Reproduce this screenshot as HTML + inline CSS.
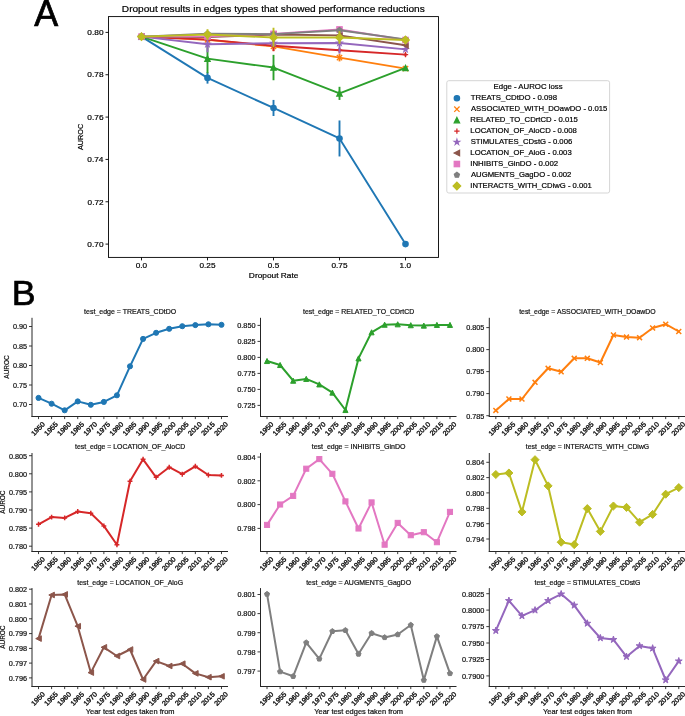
<!DOCTYPE html>
<html><head><meta charset="utf-8"><style>
html,body{margin:0;padding:0;background:#fff;overflow:hidden;width:685px;height:716px;}
svg{display:block;}
text{font-family:"Liberation Sans",sans-serif;}
svg{will-change:transform;}
</style></head><body>
<svg width="685" height="716" viewBox="0 0 685 716">
<rect width="685" height="716" fill="#fff"/>
<text x="34.28" y="26.20" font-size="36.80" fill="#000" stroke="#000" stroke-width="0.7" textLength="23.94" lengthAdjust="spacingAndGlyphs">A</text>
<text x="11.67" y="304.50" font-size="35.90" fill="#000" stroke="#000" stroke-width="0.7" textLength="23.81" lengthAdjust="spacingAndGlyphs">B</text>
<text x="121.83" y="11.80" font-size="9.38" fill="#000" stroke="#000" stroke-width="0.2" textLength="302.89" lengthAdjust="spacingAndGlyphs">Dropout results in edges types that showed performance reductions</text>
<line x1="105.50" y1="32.40" x2="108.50" y2="32.40" stroke="#000" stroke-width="0.9" stroke-linecap="butt"/>
<text x="87.38" y="35.15" font-size="7.84" fill="#000" stroke="#000" stroke-width="0.2" textLength="16.15" lengthAdjust="spacingAndGlyphs">0.80</text>
<line x1="105.50" y1="74.74" x2="108.50" y2="74.74" stroke="#000" stroke-width="0.9" stroke-linecap="butt"/>
<text x="87.39" y="77.49" font-size="7.84" fill="#000" stroke="#000" stroke-width="0.2" textLength="16.17" lengthAdjust="spacingAndGlyphs">0.78</text>
<line x1="105.50" y1="117.08" x2="108.50" y2="117.08" stroke="#000" stroke-width="0.9" stroke-linecap="butt"/>
<text x="87.35" y="119.83" font-size="7.84" fill="#000" stroke="#000" stroke-width="0.2" textLength="16.21" lengthAdjust="spacingAndGlyphs">0.76</text>
<line x1="105.50" y1="159.42" x2="108.50" y2="159.42" stroke="#000" stroke-width="0.9" stroke-linecap="butt"/>
<text x="87.30" y="162.17" font-size="7.84" fill="#000" stroke="#000" stroke-width="0.2" textLength="16.14" lengthAdjust="spacingAndGlyphs">0.74</text>
<line x1="105.50" y1="201.76" x2="108.50" y2="201.76" stroke="#000" stroke-width="0.9" stroke-linecap="butt"/>
<text x="87.63" y="204.51" font-size="7.84" fill="#000" stroke="#000" stroke-width="0.2" textLength="15.98" lengthAdjust="spacingAndGlyphs">0.72</text>
<line x1="105.50" y1="244.10" x2="108.50" y2="244.10" stroke="#000" stroke-width="0.9" stroke-linecap="butt"/>
<text x="87.38" y="246.85" font-size="7.84" fill="#000" stroke="#000" stroke-width="0.2" textLength="16.15" lengthAdjust="spacingAndGlyphs">0.70</text>
<line x1="141.50" y1="257.40" x2="141.50" y2="260.40" stroke="#000" stroke-width="0.9" stroke-linecap="butt"/>
<text x="135.78" y="268.20" font-size="7.84" fill="#000" stroke="#000" stroke-width="0.2" textLength="11.43" lengthAdjust="spacingAndGlyphs">0.0</text>
<line x1="207.50" y1="257.40" x2="207.50" y2="260.40" stroke="#000" stroke-width="0.9" stroke-linecap="butt"/>
<text x="199.51" y="268.20" font-size="7.84" fill="#000" stroke="#000" stroke-width="0.2" textLength="16.01" lengthAdjust="spacingAndGlyphs">0.25</text>
<line x1="273.50" y1="257.40" x2="273.50" y2="260.40" stroke="#000" stroke-width="0.9" stroke-linecap="butt"/>
<text x="267.87" y="268.20" font-size="7.84" fill="#000" stroke="#000" stroke-width="0.2" textLength="11.29" lengthAdjust="spacingAndGlyphs">0.5</text>
<line x1="339.50" y1="257.40" x2="339.50" y2="260.40" stroke="#000" stroke-width="0.9" stroke-linecap="butt"/>
<text x="331.51" y="268.20" font-size="7.84" fill="#000" stroke="#000" stroke-width="0.2" textLength="16.01" lengthAdjust="spacingAndGlyphs">0.75</text>
<line x1="405.50" y1="257.40" x2="405.50" y2="260.40" stroke="#000" stroke-width="0.9" stroke-linecap="butt"/>
<text x="399.64" y="268.20" font-size="7.84" fill="#000" stroke="#000" stroke-width="0.2" textLength="11.41" lengthAdjust="spacingAndGlyphs">1.0</text>
<text x="248.89" y="278.40" font-size="7.84" fill="#000" stroke="#000" stroke-width="0.2" textLength="49.50" lengthAdjust="spacingAndGlyphs">Dropout Rate</text>
<text transform="translate(80.10,137.00) rotate(-90) translate(-13.09,2.70)" x="0" y="0" font-size="7.84" fill="#000" stroke="#000" stroke-width="0.2" textLength="26.45" lengthAdjust="spacingAndGlyphs">AUROC</text>
<g>
<line x1="207.50" y1="72.20" x2="207.50" y2="83.63" stroke="#1f77b4" stroke-width="1.9" stroke-linecap="butt"/>
<line x1="273.50" y1="99.93" x2="273.50" y2="116.02" stroke="#1f77b4" stroke-width="1.9" stroke-linecap="butt"/>
<line x1="339.50" y1="120.47" x2="339.50" y2="156.46" stroke="#1f77b4" stroke-width="1.9" stroke-linecap="butt"/>
<polyline points="141.50,36.63 207.50,77.92 273.50,107.98 339.50,138.46 405.50,244.10" fill="none" stroke="#1f77b4" stroke-width="1.9" stroke-linejoin="round" stroke-linecap="round"/>
<circle cx="141.50" cy="36.63" r="2.67" fill="#1f77b4" stroke="#1f77b4" stroke-width="1.27" stroke-linejoin="miter"/>
<circle cx="207.50" cy="77.92" r="2.67" fill="#1f77b4" stroke="#1f77b4" stroke-width="1.27" stroke-linejoin="miter"/>
<circle cx="273.50" cy="107.98" r="2.67" fill="#1f77b4" stroke="#1f77b4" stroke-width="1.27" stroke-linejoin="miter"/>
<circle cx="339.50" cy="138.46" r="2.67" fill="#1f77b4" stroke="#1f77b4" stroke-width="1.27" stroke-linejoin="miter"/>
<circle cx="405.50" cy="244.10" r="2.67" fill="#1f77b4" stroke="#1f77b4" stroke-width="1.27" stroke-linejoin="miter"/>
<line x1="207.50" y1="37.27" x2="207.50" y2="42.35" stroke="#ff7f0e" stroke-width="1.9" stroke-linecap="butt"/>
<line x1="273.50" y1="41.71" x2="273.50" y2="51.03" stroke="#ff7f0e" stroke-width="1.9" stroke-linecap="butt"/>
<line x1="339.50" y1="53.78" x2="339.50" y2="61.40" stroke="#ff7f0e" stroke-width="1.9" stroke-linecap="butt"/>
<line x1="405.50" y1="66.91" x2="405.50" y2="70.29" stroke="#ff7f0e" stroke-width="1.9" stroke-linecap="butt"/>
<polyline points="141.50,36.63 207.50,39.81 273.50,46.37 339.50,57.59 405.50,68.60" fill="none" stroke="#ff7f0e" stroke-width="1.9" stroke-linejoin="round" stroke-linecap="round"/>
<path d="M138.84 33.97L144.16 39.30M138.84 39.30L144.16 33.97" stroke="#ff7f0e" stroke-width="1.27" fill="none"/>
<path d="M204.84 37.14L210.16 42.47M204.84 42.47L210.16 37.14" stroke="#ff7f0e" stroke-width="1.27" fill="none"/>
<path d="M270.83 43.71L276.17 49.04M270.83 49.04L276.17 43.71" stroke="#ff7f0e" stroke-width="1.27" fill="none"/>
<path d="M336.83 54.93L342.17 60.26M336.83 60.26L342.17 54.93" stroke="#ff7f0e" stroke-width="1.27" fill="none"/>
<path d="M402.83 65.94L408.17 71.27M402.83 71.27L408.17 65.94" stroke="#ff7f0e" stroke-width="1.27" fill="none"/>
<line x1="207.50" y1="44.04" x2="207.50" y2="73.26" stroke="#2ca02c" stroke-width="1.9" stroke-linecap="butt"/>
<line x1="273.50" y1="54.84" x2="273.50" y2="80.24" stroke="#2ca02c" stroke-width="1.9" stroke-linecap="butt"/>
<line x1="339.50" y1="86.81" x2="339.50" y2="99.93" stroke="#2ca02c" stroke-width="1.9" stroke-linecap="butt"/>
<line x1="405.50" y1="66.27" x2="405.50" y2="69.66" stroke="#2ca02c" stroke-width="1.9" stroke-linecap="butt"/>
<polyline points="141.50,36.63 207.50,58.65 273.50,67.54 339.50,93.37 405.50,67.97" fill="none" stroke="#2ca02c" stroke-width="1.9" stroke-linejoin="round" stroke-linecap="round"/>
<path d="M141.50 33.97L144.16 39.30L138.84 39.30Z" fill="#2ca02c" stroke="#2ca02c" stroke-width="1.27" stroke-linejoin="miter"/>
<path d="M207.50 55.99L210.16 61.32L204.84 61.32Z" fill="#2ca02c" stroke="#2ca02c" stroke-width="1.27" stroke-linejoin="miter"/>
<path d="M273.50 64.88L276.17 70.21L270.83 70.21Z" fill="#2ca02c" stroke="#2ca02c" stroke-width="1.27" stroke-linejoin="miter"/>
<path d="M339.50 90.70L342.17 96.03L336.83 96.03Z" fill="#2ca02c" stroke="#2ca02c" stroke-width="1.27" stroke-linejoin="miter"/>
<path d="M405.50 65.30L408.17 70.63L402.83 70.63Z" fill="#2ca02c" stroke="#2ca02c" stroke-width="1.27" stroke-linejoin="miter"/>
<line x1="207.50" y1="37.48" x2="207.50" y2="41.71" stroke="#d62728" stroke-width="1.9" stroke-linecap="butt"/>
<line x1="273.50" y1="40.23" x2="273.50" y2="51.24" stroke="#d62728" stroke-width="1.9" stroke-linecap="butt"/>
<line x1="339.50" y1="48.07" x2="339.50" y2="52.30" stroke="#d62728" stroke-width="1.9" stroke-linecap="butt"/>
<line x1="405.50" y1="52.93" x2="405.50" y2="56.32" stroke="#d62728" stroke-width="1.9" stroke-linecap="butt"/>
<polyline points="141.50,36.63 207.50,39.60 273.50,45.74 339.50,50.18 405.50,54.63" fill="none" stroke="#d62728" stroke-width="1.9" stroke-linejoin="round" stroke-linecap="round"/>
<path d="M138.84 36.63L144.16 36.63M141.50 33.97L141.50 39.30" stroke="#d62728" stroke-width="1.27" fill="none"/>
<path d="M204.84 39.60L210.16 39.60M207.50 36.93L207.50 42.26" stroke="#d62728" stroke-width="1.27" fill="none"/>
<path d="M270.83 45.74L276.17 45.74M273.50 43.07L273.50 48.40" stroke="#d62728" stroke-width="1.27" fill="none"/>
<path d="M336.83 50.18L342.17 50.18M339.50 47.52L339.50 52.85" stroke="#d62728" stroke-width="1.27" fill="none"/>
<path d="M402.83 54.63L408.17 54.63M405.50 51.96L405.50 57.29" stroke="#d62728" stroke-width="1.27" fill="none"/>
<line x1="207.50" y1="36.21" x2="207.50" y2="52.30" stroke="#9467bd" stroke-width="1.9" stroke-linecap="butt"/>
<line x1="273.50" y1="40.66" x2="273.50" y2="45.74" stroke="#9467bd" stroke-width="1.9" stroke-linecap="butt"/>
<line x1="339.50" y1="32.40" x2="339.50" y2="53.57" stroke="#9467bd" stroke-width="1.9" stroke-linecap="butt"/>
<line x1="405.50" y1="47.64" x2="405.50" y2="51.03" stroke="#9467bd" stroke-width="1.9" stroke-linecap="butt"/>
<polyline points="141.50,36.63 207.50,44.26 273.50,43.20 339.50,42.99 405.50,49.34" fill="none" stroke="#9467bd" stroke-width="1.9" stroke-linejoin="round" stroke-linecap="round"/>
<path d="M141.50 33.97L140.90 35.81L138.97 35.81L140.53 36.95L139.93 38.79L141.50 37.65L143.07 38.79L142.47 36.95L144.03 35.81L142.10 35.81Z" fill="#9467bd" stroke="#9467bd" stroke-width="1.27" stroke-linejoin="miter"/>
<path d="M207.50 41.59L206.90 43.43L204.97 43.43L206.53 44.57L205.93 46.41L207.50 45.27L209.07 46.41L208.47 44.57L210.03 43.43L208.10 43.43Z" fill="#9467bd" stroke="#9467bd" stroke-width="1.27" stroke-linejoin="miter"/>
<path d="M273.50 40.53L272.90 42.37L270.97 42.37L272.53 43.51L271.93 45.35L273.50 44.21L275.07 45.35L274.47 43.51L276.03 42.37L274.10 42.37Z" fill="#9467bd" stroke="#9467bd" stroke-width="1.27" stroke-linejoin="miter"/>
<path d="M339.50 40.32L338.90 42.16L336.97 42.16L338.53 43.30L337.93 45.14L339.50 44.00L341.07 45.14L340.47 43.30L342.03 42.16L340.10 42.16Z" fill="#9467bd" stroke="#9467bd" stroke-width="1.27" stroke-linejoin="miter"/>
<path d="M405.50 46.67L404.90 48.51L402.97 48.51L404.53 49.65L403.93 51.49L405.50 50.35L407.07 51.49L406.47 49.65L408.03 48.51L406.10 48.51Z" fill="#9467bd" stroke="#9467bd" stroke-width="1.27" stroke-linejoin="miter"/>
<line x1="207.50" y1="35.36" x2="207.50" y2="38.75" stroke="#8c564b" stroke-width="1.9" stroke-linecap="butt"/>
<line x1="273.50" y1="32.82" x2="273.50" y2="36.21" stroke="#8c564b" stroke-width="1.9" stroke-linecap="butt"/>
<line x1="339.50" y1="33.67" x2="339.50" y2="37.06" stroke="#8c564b" stroke-width="1.9" stroke-linecap="butt"/>
<line x1="405.50" y1="43.62" x2="405.50" y2="47.01" stroke="#8c564b" stroke-width="1.9" stroke-linecap="butt"/>
<polyline points="141.50,36.63 207.50,37.06 273.50,34.52 339.50,35.36 405.50,45.31" fill="none" stroke="#8c564b" stroke-width="1.9" stroke-linejoin="round" stroke-linecap="round"/>
<path d="M138.84 36.63L144.16 33.97L144.16 39.30Z" fill="#8c564b" stroke="#8c564b" stroke-width="1.27" stroke-linejoin="miter"/>
<path d="M204.84 37.06L210.16 34.39L210.16 39.72Z" fill="#8c564b" stroke="#8c564b" stroke-width="1.27" stroke-linejoin="miter"/>
<path d="M270.83 34.52L276.17 31.85L276.17 37.18Z" fill="#8c564b" stroke="#8c564b" stroke-width="1.27" stroke-linejoin="miter"/>
<path d="M336.83 35.36L342.17 32.70L342.17 38.03Z" fill="#8c564b" stroke="#8c564b" stroke-width="1.27" stroke-linejoin="miter"/>
<path d="M402.83 45.31L408.17 42.65L408.17 47.98Z" fill="#8c564b" stroke="#8c564b" stroke-width="1.27" stroke-linejoin="miter"/>
<line x1="207.50" y1="34.73" x2="207.50" y2="38.12" stroke="#e377c2" stroke-width="1.9" stroke-linecap="butt"/>
<line x1="273.50" y1="31.34" x2="273.50" y2="36.42" stroke="#e377c2" stroke-width="1.9" stroke-linecap="butt"/>
<line x1="339.50" y1="27.32" x2="339.50" y2="31.55" stroke="#e377c2" stroke-width="1.9" stroke-linecap="butt"/>
<line x1="405.50" y1="38.33" x2="405.50" y2="41.71" stroke="#e377c2" stroke-width="1.9" stroke-linecap="butt"/>
<polyline points="141.50,36.63 207.50,36.42 273.50,33.88 339.50,29.44 405.50,40.02" fill="none" stroke="#e377c2" stroke-width="1.9" stroke-linejoin="round" stroke-linecap="round"/>
<rect x="138.84" y="33.97" width="5.33" height="5.33" fill="#e377c2" stroke="#e377c2" stroke-width="1.27" stroke-linejoin="miter"/>
<rect x="204.84" y="33.76" width="5.33" height="5.33" fill="#e377c2" stroke="#e377c2" stroke-width="1.27" stroke-linejoin="miter"/>
<rect x="270.83" y="31.22" width="5.33" height="5.33" fill="#e377c2" stroke="#e377c2" stroke-width="1.27" stroke-linejoin="miter"/>
<rect x="336.83" y="26.77" width="5.33" height="5.33" fill="#e377c2" stroke="#e377c2" stroke-width="1.27" stroke-linejoin="miter"/>
<rect x="402.83" y="37.36" width="5.33" height="5.33" fill="#e377c2" stroke="#e377c2" stroke-width="1.27" stroke-linejoin="miter"/>
<line x1="207.50" y1="31.98" x2="207.50" y2="35.36" stroke="#7f7f7f" stroke-width="1.9" stroke-linecap="butt"/>
<line x1="273.50" y1="32.40" x2="273.50" y2="35.79" stroke="#7f7f7f" stroke-width="1.9" stroke-linecap="butt"/>
<line x1="339.50" y1="27.74" x2="339.50" y2="32.82" stroke="#7f7f7f" stroke-width="1.9" stroke-linecap="butt"/>
<line x1="405.50" y1="37.69" x2="405.50" y2="41.08" stroke="#7f7f7f" stroke-width="1.9" stroke-linecap="butt"/>
<polyline points="141.50,36.63 207.50,33.67 273.50,34.09 339.50,30.28 405.50,39.39" fill="none" stroke="#7f7f7f" stroke-width="1.9" stroke-linejoin="round" stroke-linecap="round"/>
<path d="M141.50 33.97L138.97 35.81L139.93 38.79L143.07 38.79L144.03 35.81Z" fill="#7f7f7f" stroke="#7f7f7f" stroke-width="1.27" stroke-linejoin="miter"/>
<path d="M207.50 31.01L204.97 32.85L205.93 35.83L209.07 35.83L210.03 32.85Z" fill="#7f7f7f" stroke="#7f7f7f" stroke-width="1.27" stroke-linejoin="miter"/>
<path d="M273.50 31.43L270.97 33.27L271.93 36.25L275.07 36.25L276.03 33.27Z" fill="#7f7f7f" stroke="#7f7f7f" stroke-width="1.27" stroke-linejoin="miter"/>
<path d="M339.50 27.62L336.97 29.46L337.93 32.44L341.07 32.44L342.03 29.46Z" fill="#7f7f7f" stroke="#7f7f7f" stroke-width="1.27" stroke-linejoin="miter"/>
<path d="M405.50 36.72L402.97 38.56L403.93 41.54L407.07 41.54L408.03 38.56Z" fill="#7f7f7f" stroke="#7f7f7f" stroke-width="1.27" stroke-linejoin="miter"/>
<line x1="207.50" y1="29.22" x2="207.50" y2="39.81" stroke="#bcbd22" stroke-width="1.9" stroke-linecap="butt"/>
<line x1="273.50" y1="27.74" x2="273.50" y2="47.22" stroke="#bcbd22" stroke-width="1.9" stroke-linecap="butt"/>
<line x1="339.50" y1="31.13" x2="339.50" y2="43.83" stroke="#bcbd22" stroke-width="1.9" stroke-linecap="butt"/>
<line x1="405.50" y1="38.75" x2="405.50" y2="41.29" stroke="#bcbd22" stroke-width="1.9" stroke-linecap="butt"/>
<polyline points="141.50,36.63 207.50,34.52 273.50,37.48 339.50,37.48 405.50,40.02" fill="none" stroke="#bcbd22" stroke-width="1.9" stroke-linejoin="round" stroke-linecap="round"/>
<path d="M141.50 32.87L145.27 36.63L141.50 40.40L137.73 36.63Z" fill="#bcbd22" stroke="#bcbd22" stroke-width="1.27" stroke-linejoin="miter"/>
<path d="M207.50 30.75L211.27 34.52L207.50 38.29L203.73 34.52Z" fill="#bcbd22" stroke="#bcbd22" stroke-width="1.27" stroke-linejoin="miter"/>
<path d="M273.50 33.71L277.27 37.48L273.50 41.25L269.73 37.48Z" fill="#bcbd22" stroke="#bcbd22" stroke-width="1.27" stroke-linejoin="miter"/>
<path d="M339.50 33.71L343.27 37.48L339.50 41.25L335.73 37.48Z" fill="#bcbd22" stroke="#bcbd22" stroke-width="1.27" stroke-linejoin="miter"/>
<path d="M405.50 36.25L409.27 40.02L405.50 43.79L401.73 40.02Z" fill="#bcbd22" stroke="#bcbd22" stroke-width="1.27" stroke-linejoin="miter"/>
</g>
<rect x="108.5" y="16.6" width="330.0" height="240.79999999999998" fill="none" stroke="#000" stroke-width="0.9"/>
<rect x="446.8" y="80.7" width="162.80" height="112.30" rx="2" ry="2" fill="#fff" fill-opacity="0.8" stroke="#d0d0d0" stroke-width="0.9"/>
<text x="493.58" y="89.30" font-size="7.84" fill="#000" stroke="#000" stroke-width="0.2" textLength="69.09" lengthAdjust="spacingAndGlyphs">Edge - AUROC loss</text>
<circle cx="456.90" cy="98.20" r="2.67" fill="#1f77b4" stroke="#1f77b4" stroke-width="1.27" stroke-linejoin="miter"/>
<text x="470.83" y="100.10" font-size="7.84" fill="#000" stroke="#000" stroke-width="0.2" textLength="86.19" lengthAdjust="spacingAndGlyphs">TREATS_CDtDO - 0.098</text>
<path d="M454.23 106.50L459.56 111.84M454.23 111.84L459.56 106.50" stroke="#ff7f0e" stroke-width="1.27" fill="none"/>
<text x="470.99" y="111.07" font-size="7.84" fill="#000" stroke="#000" stroke-width="0.2" textLength="136.40" lengthAdjust="spacingAndGlyphs">ASSOCIATED_WITH_DOawDO - 0.015</text>
<path d="M456.90 117.47L459.56 122.81L454.23 122.81Z" fill="#2ca02c" stroke="#2ca02c" stroke-width="1.27" stroke-linejoin="miter"/>
<text x="470.37" y="122.04" font-size="7.84" fill="#000" stroke="#000" stroke-width="0.2" textLength="107.45" lengthAdjust="spacingAndGlyphs">RELATED_TO_CDrtCD - 0.015</text>
<path d="M454.23 131.11L459.56 131.11M456.90 128.45L456.90 133.78" stroke="#d62728" stroke-width="1.27" fill="none"/>
<text x="470.37" y="133.01" font-size="7.84" fill="#000" stroke="#000" stroke-width="0.2" textLength="106.52" lengthAdjust="spacingAndGlyphs">LOCATION_OF_AloCD - 0.008</text>
<path d="M456.90 139.42L456.30 141.26L454.37 141.26L455.93 142.39L455.33 144.24L456.90 143.10L458.47 144.24L457.87 142.39L459.43 141.26L457.50 141.26Z" fill="#9467bd" stroke="#9467bd" stroke-width="1.27" stroke-linejoin="miter"/>
<text x="470.65" y="143.98" font-size="7.84" fill="#000" stroke="#000" stroke-width="0.2" textLength="101.63" lengthAdjust="spacingAndGlyphs">STIMULATES_CDstG - 0.006</text>
<path d="M454.23 153.05L459.56 150.39L459.56 155.72Z" fill="#8c564b" stroke="#8c564b" stroke-width="1.27" stroke-linejoin="miter"/>
<text x="470.37" y="154.95" font-size="7.84" fill="#000" stroke="#000" stroke-width="0.2" textLength="101.31" lengthAdjust="spacingAndGlyphs">LOCATION_OF_AloG - 0.003</text>
<rect x="454.23" y="161.36" width="5.33" height="5.33" fill="#e377c2" stroke="#e377c2" stroke-width="1.27" stroke-linejoin="miter"/>
<text x="470.28" y="165.92" font-size="7.84" fill="#000" stroke="#000" stroke-width="0.2" textLength="87.85" lengthAdjust="spacingAndGlyphs">INHIBITS_GinDO - 0.002</text>
<path d="M456.90 172.33L454.37 174.17L455.33 177.15L458.47 177.15L459.43 174.17Z" fill="#7f7f7f" stroke="#7f7f7f" stroke-width="1.27" stroke-linejoin="miter"/>
<text x="470.98" y="176.89" font-size="7.84" fill="#000" stroke="#000" stroke-width="0.2" textLength="100.38" lengthAdjust="spacingAndGlyphs">AUGMENTS_GagDO - 0.002</text>
<path d="M456.90 182.19L460.67 185.96L456.90 189.73L453.13 185.96Z" fill="#bcbd22" stroke="#bcbd22" stroke-width="1.27" stroke-linejoin="miter"/>
<text x="470.29" y="187.86" font-size="7.84" fill="#000" stroke="#000" stroke-width="0.2" textLength="121.42" lengthAdjust="spacingAndGlyphs">INTERACTS_WITH_CDiwG - 0.001</text>
<text x="84.08" y="314.20" font-size="6.89" fill="#111" stroke="#111" stroke-width="0.2" textLength="92.06" lengthAdjust="spacingAndGlyphs">test_edge = TREATS_CDtDO</text>
<line x1="29.00" y1="404.50" x2="32.00" y2="404.50" stroke="#262626" stroke-width="0.9" stroke-linecap="butt"/>
<text x="12.90" y="407.30" font-size="6.89" fill="#111" stroke="#111" stroke-width="0.2" textLength="14.18" lengthAdjust="spacingAndGlyphs">0.70</text>
<line x1="29.00" y1="385.00" x2="32.00" y2="385.00" stroke="#262626" stroke-width="0.9" stroke-linecap="butt"/>
<text x="13.04" y="387.80" font-size="6.89" fill="#111" stroke="#111" stroke-width="0.2" textLength="14.06" lengthAdjust="spacingAndGlyphs">0.75</text>
<line x1="29.00" y1="365.50" x2="32.00" y2="365.50" stroke="#262626" stroke-width="0.9" stroke-linecap="butt"/>
<text x="12.90" y="368.30" font-size="6.89" fill="#111" stroke="#111" stroke-width="0.2" textLength="14.18" lengthAdjust="spacingAndGlyphs">0.80</text>
<line x1="29.00" y1="346.00" x2="32.00" y2="346.00" stroke="#262626" stroke-width="0.9" stroke-linecap="butt"/>
<text x="13.04" y="348.80" font-size="6.89" fill="#111" stroke="#111" stroke-width="0.2" textLength="14.06" lengthAdjust="spacingAndGlyphs">0.85</text>
<line x1="29.00" y1="326.50" x2="32.00" y2="326.50" stroke="#262626" stroke-width="0.9" stroke-linecap="butt"/>
<text x="12.90" y="329.30" font-size="6.89" fill="#111" stroke="#111" stroke-width="0.2" textLength="14.18" lengthAdjust="spacingAndGlyphs">0.90</text>
<line x1="38.53" y1="416.50" x2="38.53" y2="419.10" stroke="#262626" stroke-width="0.9" stroke-linecap="butt"/>
<text transform="translate(38.08,428.70) rotate(-45) translate(-8.25,2.37)" x="0" y="0" font-size="6.89" fill="#111" stroke="#111" stroke-width="0.35" textLength="16.24" lengthAdjust="spacingAndGlyphs">1950</text>
<line x1="51.60" y1="416.50" x2="51.60" y2="419.10" stroke="#262626" stroke-width="0.9" stroke-linecap="butt"/>
<text transform="translate(51.15,428.70) rotate(-45) translate(-8.18,2.37)" x="0" y="0" font-size="6.89" fill="#111" stroke="#111" stroke-width="0.35" textLength="16.12" lengthAdjust="spacingAndGlyphs">1955</text>
<line x1="64.67" y1="416.50" x2="64.67" y2="419.10" stroke="#262626" stroke-width="0.9" stroke-linecap="butt"/>
<text transform="translate(64.22,428.70) rotate(-45) translate(-8.25,2.37)" x="0" y="0" font-size="6.89" fill="#111" stroke="#111" stroke-width="0.35" textLength="16.24" lengthAdjust="spacingAndGlyphs">1960</text>
<line x1="77.73" y1="416.50" x2="77.73" y2="419.10" stroke="#262626" stroke-width="0.9" stroke-linecap="butt"/>
<text transform="translate(77.28,428.70) rotate(-45) translate(-8.18,2.37)" x="0" y="0" font-size="6.89" fill="#111" stroke="#111" stroke-width="0.35" textLength="16.12" lengthAdjust="spacingAndGlyphs">1965</text>
<line x1="90.80" y1="416.50" x2="90.80" y2="419.10" stroke="#262626" stroke-width="0.9" stroke-linecap="butt"/>
<text transform="translate(90.35,428.70) rotate(-45) translate(-8.25,2.37)" x="0" y="0" font-size="6.89" fill="#111" stroke="#111" stroke-width="0.35" textLength="16.24" lengthAdjust="spacingAndGlyphs">1970</text>
<line x1="103.87" y1="416.50" x2="103.87" y2="419.10" stroke="#262626" stroke-width="0.9" stroke-linecap="butt"/>
<text transform="translate(103.42,428.70) rotate(-45) translate(-8.18,2.37)" x="0" y="0" font-size="6.89" fill="#111" stroke="#111" stroke-width="0.35" textLength="16.12" lengthAdjust="spacingAndGlyphs">1975</text>
<line x1="116.93" y1="416.50" x2="116.93" y2="419.10" stroke="#262626" stroke-width="0.9" stroke-linecap="butt"/>
<text transform="translate(116.48,428.70) rotate(-45) translate(-8.25,2.37)" x="0" y="0" font-size="6.89" fill="#111" stroke="#111" stroke-width="0.35" textLength="16.24" lengthAdjust="spacingAndGlyphs">1980</text>
<line x1="130.00" y1="416.50" x2="130.00" y2="419.10" stroke="#262626" stroke-width="0.9" stroke-linecap="butt"/>
<text transform="translate(129.55,428.70) rotate(-45) translate(-8.18,2.37)" x="0" y="0" font-size="6.89" fill="#111" stroke="#111" stroke-width="0.35" textLength="16.12" lengthAdjust="spacingAndGlyphs">1985</text>
<line x1="143.07" y1="416.50" x2="143.07" y2="419.10" stroke="#262626" stroke-width="0.9" stroke-linecap="butt"/>
<text transform="translate(142.62,428.70) rotate(-45) translate(-8.25,2.37)" x="0" y="0" font-size="6.89" fill="#111" stroke="#111" stroke-width="0.35" textLength="16.24" lengthAdjust="spacingAndGlyphs">1990</text>
<line x1="156.13" y1="416.50" x2="156.13" y2="419.10" stroke="#262626" stroke-width="0.9" stroke-linecap="butt"/>
<text transform="translate(155.68,428.70) rotate(-45) translate(-8.18,2.37)" x="0" y="0" font-size="6.89" fill="#111" stroke="#111" stroke-width="0.35" textLength="16.12" lengthAdjust="spacingAndGlyphs">1995</text>
<line x1="169.20" y1="416.50" x2="169.20" y2="419.10" stroke="#262626" stroke-width="0.9" stroke-linecap="butt"/>
<text transform="translate(168.75,428.70) rotate(-45) translate(-8.19,2.37)" x="0" y="0" font-size="6.89" fill="#111" stroke="#111" stroke-width="0.35" textLength="16.29" lengthAdjust="spacingAndGlyphs">2000</text>
<line x1="182.27" y1="416.50" x2="182.27" y2="419.10" stroke="#262626" stroke-width="0.9" stroke-linecap="butt"/>
<text transform="translate(181.82,428.70) rotate(-45) translate(-8.11,2.37)" x="0" y="0" font-size="6.89" fill="#111" stroke="#111" stroke-width="0.35" textLength="16.17" lengthAdjust="spacingAndGlyphs">2005</text>
<line x1="195.33" y1="416.50" x2="195.33" y2="419.10" stroke="#262626" stroke-width="0.9" stroke-linecap="butt"/>
<text transform="translate(194.88,428.70) rotate(-45) translate(-8.19,2.37)" x="0" y="0" font-size="6.89" fill="#111" stroke="#111" stroke-width="0.35" textLength="16.29" lengthAdjust="spacingAndGlyphs">2010</text>
<line x1="208.40" y1="416.50" x2="208.40" y2="419.10" stroke="#262626" stroke-width="0.9" stroke-linecap="butt"/>
<text transform="translate(207.95,428.70) rotate(-45) translate(-8.11,2.37)" x="0" y="0" font-size="6.89" fill="#111" stroke="#111" stroke-width="0.35" textLength="16.17" lengthAdjust="spacingAndGlyphs">2015</text>
<line x1="221.47" y1="416.50" x2="221.47" y2="419.10" stroke="#262626" stroke-width="0.9" stroke-linecap="butt"/>
<text transform="translate(221.02,428.70) rotate(-45) translate(-8.19,2.37)" x="0" y="0" font-size="6.89" fill="#111" stroke="#111" stroke-width="0.35" textLength="16.29" lengthAdjust="spacingAndGlyphs">2020</text>
<line x1="32.00" y1="317.80" x2="32.00" y2="417.00" stroke="#262626" stroke-width="1.0" stroke-linecap="butt"/>
<line x1="31.50" y1="416.50" x2="228.00" y2="416.50" stroke="#262626" stroke-width="1.0" stroke-linecap="butt"/>
<polyline points="38.53,397.90 51.60,403.70 64.67,410.30 77.73,401.40 90.80,404.80 103.87,401.90 116.93,395.30 130.00,366.30 143.07,338.90 156.13,332.80 169.20,328.80 182.27,326.20 195.33,325.10 208.40,324.30 221.47,324.80" fill="none" stroke="#1f77b4" stroke-width="2.0" stroke-linejoin="round" stroke-linecap="round"/>
<circle cx="38.53" cy="397.90" r="2.55" fill="#1f77b4" stroke="#1f77b4" stroke-width="1.0" stroke-linejoin="miter"/>
<circle cx="51.60" cy="403.70" r="2.55" fill="#1f77b4" stroke="#1f77b4" stroke-width="1.0" stroke-linejoin="miter"/>
<circle cx="64.67" cy="410.30" r="2.55" fill="#1f77b4" stroke="#1f77b4" stroke-width="1.0" stroke-linejoin="miter"/>
<circle cx="77.73" cy="401.40" r="2.55" fill="#1f77b4" stroke="#1f77b4" stroke-width="1.0" stroke-linejoin="miter"/>
<circle cx="90.80" cy="404.80" r="2.55" fill="#1f77b4" stroke="#1f77b4" stroke-width="1.0" stroke-linejoin="miter"/>
<circle cx="103.87" cy="401.90" r="2.55" fill="#1f77b4" stroke="#1f77b4" stroke-width="1.0" stroke-linejoin="miter"/>
<circle cx="116.93" cy="395.30" r="2.55" fill="#1f77b4" stroke="#1f77b4" stroke-width="1.0" stroke-linejoin="miter"/>
<circle cx="130.00" cy="366.30" r="2.55" fill="#1f77b4" stroke="#1f77b4" stroke-width="1.0" stroke-linejoin="miter"/>
<circle cx="143.07" cy="338.90" r="2.55" fill="#1f77b4" stroke="#1f77b4" stroke-width="1.0" stroke-linejoin="miter"/>
<circle cx="156.13" cy="332.80" r="2.55" fill="#1f77b4" stroke="#1f77b4" stroke-width="1.0" stroke-linejoin="miter"/>
<circle cx="169.20" cy="328.80" r="2.55" fill="#1f77b4" stroke="#1f77b4" stroke-width="1.0" stroke-linejoin="miter"/>
<circle cx="182.27" cy="326.20" r="2.55" fill="#1f77b4" stroke="#1f77b4" stroke-width="1.0" stroke-linejoin="miter"/>
<circle cx="195.33" cy="325.10" r="2.55" fill="#1f77b4" stroke="#1f77b4" stroke-width="1.0" stroke-linejoin="miter"/>
<circle cx="208.40" cy="324.30" r="2.55" fill="#1f77b4" stroke="#1f77b4" stroke-width="1.0" stroke-linejoin="miter"/>
<circle cx="221.47" cy="324.80" r="2.55" fill="#1f77b4" stroke="#1f77b4" stroke-width="1.0" stroke-linejoin="miter"/>
<text x="303.06" y="314.20" font-size="6.89" fill="#111" stroke="#111" stroke-width="0.2" textLength="111.10" lengthAdjust="spacingAndGlyphs">test_edge = RELATED_TO_CDrtCD</text>
<line x1="257.50" y1="405.40" x2="260.50" y2="405.40" stroke="#262626" stroke-width="0.9" stroke-linecap="butt"/>
<text x="237.40" y="408.20" font-size="6.89" fill="#111" stroke="#111" stroke-width="0.2" textLength="18.20" lengthAdjust="spacingAndGlyphs">0.725</text>
<line x1="257.50" y1="389.40" x2="260.50" y2="389.40" stroke="#262626" stroke-width="0.9" stroke-linecap="butt"/>
<text x="237.27" y="392.20" font-size="6.89" fill="#111" stroke="#111" stroke-width="0.2" textLength="18.32" lengthAdjust="spacingAndGlyphs">0.750</text>
<line x1="257.50" y1="373.40" x2="260.50" y2="373.40" stroke="#262626" stroke-width="0.9" stroke-linecap="butt"/>
<text x="237.40" y="376.20" font-size="6.89" fill="#111" stroke="#111" stroke-width="0.2" textLength="18.20" lengthAdjust="spacingAndGlyphs">0.775</text>
<line x1="257.50" y1="357.40" x2="260.50" y2="357.40" stroke="#262626" stroke-width="0.9" stroke-linecap="butt"/>
<text x="237.27" y="360.20" font-size="6.89" fill="#111" stroke="#111" stroke-width="0.2" textLength="18.32" lengthAdjust="spacingAndGlyphs">0.800</text>
<line x1="257.50" y1="341.40" x2="260.50" y2="341.40" stroke="#262626" stroke-width="0.9" stroke-linecap="butt"/>
<text x="237.40" y="344.20" font-size="6.89" fill="#111" stroke="#111" stroke-width="0.2" textLength="18.20" lengthAdjust="spacingAndGlyphs">0.825</text>
<line x1="257.50" y1="325.40" x2="260.50" y2="325.40" stroke="#262626" stroke-width="0.9" stroke-linecap="butt"/>
<text x="237.27" y="328.20" font-size="6.89" fill="#111" stroke="#111" stroke-width="0.2" textLength="18.32" lengthAdjust="spacingAndGlyphs">0.850</text>
<line x1="267.03" y1="416.50" x2="267.03" y2="419.10" stroke="#262626" stroke-width="0.9" stroke-linecap="butt"/>
<text transform="translate(266.58,428.70) rotate(-45) translate(-8.25,2.37)" x="0" y="0" font-size="6.89" fill="#111" stroke="#111" stroke-width="0.35" textLength="16.24" lengthAdjust="spacingAndGlyphs">1950</text>
<line x1="280.10" y1="416.50" x2="280.10" y2="419.10" stroke="#262626" stroke-width="0.9" stroke-linecap="butt"/>
<text transform="translate(279.65,428.70) rotate(-45) translate(-8.18,2.37)" x="0" y="0" font-size="6.89" fill="#111" stroke="#111" stroke-width="0.35" textLength="16.12" lengthAdjust="spacingAndGlyphs">1955</text>
<line x1="293.17" y1="416.50" x2="293.17" y2="419.10" stroke="#262626" stroke-width="0.9" stroke-linecap="butt"/>
<text transform="translate(292.72,428.70) rotate(-45) translate(-8.25,2.37)" x="0" y="0" font-size="6.89" fill="#111" stroke="#111" stroke-width="0.35" textLength="16.24" lengthAdjust="spacingAndGlyphs">1960</text>
<line x1="306.23" y1="416.50" x2="306.23" y2="419.10" stroke="#262626" stroke-width="0.9" stroke-linecap="butt"/>
<text transform="translate(305.78,428.70) rotate(-45) translate(-8.18,2.37)" x="0" y="0" font-size="6.89" fill="#111" stroke="#111" stroke-width="0.35" textLength="16.12" lengthAdjust="spacingAndGlyphs">1965</text>
<line x1="319.30" y1="416.50" x2="319.30" y2="419.10" stroke="#262626" stroke-width="0.9" stroke-linecap="butt"/>
<text transform="translate(318.85,428.70) rotate(-45) translate(-8.25,2.37)" x="0" y="0" font-size="6.89" fill="#111" stroke="#111" stroke-width="0.35" textLength="16.24" lengthAdjust="spacingAndGlyphs">1970</text>
<line x1="332.37" y1="416.50" x2="332.37" y2="419.10" stroke="#262626" stroke-width="0.9" stroke-linecap="butt"/>
<text transform="translate(331.92,428.70) rotate(-45) translate(-8.18,2.37)" x="0" y="0" font-size="6.89" fill="#111" stroke="#111" stroke-width="0.35" textLength="16.12" lengthAdjust="spacingAndGlyphs">1975</text>
<line x1="345.43" y1="416.50" x2="345.43" y2="419.10" stroke="#262626" stroke-width="0.9" stroke-linecap="butt"/>
<text transform="translate(344.98,428.70) rotate(-45) translate(-8.25,2.37)" x="0" y="0" font-size="6.89" fill="#111" stroke="#111" stroke-width="0.35" textLength="16.24" lengthAdjust="spacingAndGlyphs">1980</text>
<line x1="358.50" y1="416.50" x2="358.50" y2="419.10" stroke="#262626" stroke-width="0.9" stroke-linecap="butt"/>
<text transform="translate(358.05,428.70) rotate(-45) translate(-8.18,2.37)" x="0" y="0" font-size="6.89" fill="#111" stroke="#111" stroke-width="0.35" textLength="16.12" lengthAdjust="spacingAndGlyphs">1985</text>
<line x1="371.57" y1="416.50" x2="371.57" y2="419.10" stroke="#262626" stroke-width="0.9" stroke-linecap="butt"/>
<text transform="translate(371.12,428.70) rotate(-45) translate(-8.25,2.37)" x="0" y="0" font-size="6.89" fill="#111" stroke="#111" stroke-width="0.35" textLength="16.24" lengthAdjust="spacingAndGlyphs">1990</text>
<line x1="384.63" y1="416.50" x2="384.63" y2="419.10" stroke="#262626" stroke-width="0.9" stroke-linecap="butt"/>
<text transform="translate(384.18,428.70) rotate(-45) translate(-8.18,2.37)" x="0" y="0" font-size="6.89" fill="#111" stroke="#111" stroke-width="0.35" textLength="16.12" lengthAdjust="spacingAndGlyphs">1995</text>
<line x1="397.70" y1="416.50" x2="397.70" y2="419.10" stroke="#262626" stroke-width="0.9" stroke-linecap="butt"/>
<text transform="translate(397.25,428.70) rotate(-45) translate(-8.19,2.37)" x="0" y="0" font-size="6.89" fill="#111" stroke="#111" stroke-width="0.35" textLength="16.29" lengthAdjust="spacingAndGlyphs">2000</text>
<line x1="410.77" y1="416.50" x2="410.77" y2="419.10" stroke="#262626" stroke-width="0.9" stroke-linecap="butt"/>
<text transform="translate(410.32,428.70) rotate(-45) translate(-8.11,2.37)" x="0" y="0" font-size="6.89" fill="#111" stroke="#111" stroke-width="0.35" textLength="16.17" lengthAdjust="spacingAndGlyphs">2005</text>
<line x1="423.83" y1="416.50" x2="423.83" y2="419.10" stroke="#262626" stroke-width="0.9" stroke-linecap="butt"/>
<text transform="translate(423.38,428.70) rotate(-45) translate(-8.19,2.37)" x="0" y="0" font-size="6.89" fill="#111" stroke="#111" stroke-width="0.35" textLength="16.29" lengthAdjust="spacingAndGlyphs">2010</text>
<line x1="436.90" y1="416.50" x2="436.90" y2="419.10" stroke="#262626" stroke-width="0.9" stroke-linecap="butt"/>
<text transform="translate(436.45,428.70) rotate(-45) translate(-8.11,2.37)" x="0" y="0" font-size="6.89" fill="#111" stroke="#111" stroke-width="0.35" textLength="16.17" lengthAdjust="spacingAndGlyphs">2015</text>
<line x1="449.97" y1="416.50" x2="449.97" y2="419.10" stroke="#262626" stroke-width="0.9" stroke-linecap="butt"/>
<text transform="translate(449.52,428.70) rotate(-45) translate(-8.19,2.37)" x="0" y="0" font-size="6.89" fill="#111" stroke="#111" stroke-width="0.35" textLength="16.29" lengthAdjust="spacingAndGlyphs">2020</text>
<line x1="260.50" y1="317.80" x2="260.50" y2="417.00" stroke="#262626" stroke-width="1.0" stroke-linecap="butt"/>
<line x1="260.00" y1="416.50" x2="456.50" y2="416.50" stroke="#262626" stroke-width="1.0" stroke-linecap="butt"/>
<polyline points="267.03,361.00 280.10,365.00 293.17,380.70 306.23,378.90 319.30,384.40 332.37,392.60 345.43,410.00 358.50,358.40 371.57,332.30 384.63,324.70 397.70,324.30 410.77,325.20 423.83,325.60 436.90,324.90 449.97,324.90" fill="none" stroke="#2ca02c" stroke-width="2.0" stroke-linejoin="round" stroke-linecap="round"/>
<path d="M267.03 358.45L269.58 363.55L264.48 363.55Z" fill="#2ca02c" stroke="#2ca02c" stroke-width="1.0" stroke-linejoin="miter"/>
<path d="M280.10 362.45L282.65 367.55L277.55 367.55Z" fill="#2ca02c" stroke="#2ca02c" stroke-width="1.0" stroke-linejoin="miter"/>
<path d="M293.17 378.15L295.72 383.25L290.62 383.25Z" fill="#2ca02c" stroke="#2ca02c" stroke-width="1.0" stroke-linejoin="miter"/>
<path d="M306.23 376.35L308.78 381.45L303.68 381.45Z" fill="#2ca02c" stroke="#2ca02c" stroke-width="1.0" stroke-linejoin="miter"/>
<path d="M319.30 381.85L321.85 386.95L316.75 386.95Z" fill="#2ca02c" stroke="#2ca02c" stroke-width="1.0" stroke-linejoin="miter"/>
<path d="M332.37 390.05L334.92 395.15L329.82 395.15Z" fill="#2ca02c" stroke="#2ca02c" stroke-width="1.0" stroke-linejoin="miter"/>
<path d="M345.43 407.45L347.98 412.55L342.88 412.55Z" fill="#2ca02c" stroke="#2ca02c" stroke-width="1.0" stroke-linejoin="miter"/>
<path d="M358.50 355.85L361.05 360.95L355.95 360.95Z" fill="#2ca02c" stroke="#2ca02c" stroke-width="1.0" stroke-linejoin="miter"/>
<path d="M371.57 329.75L374.12 334.85L369.02 334.85Z" fill="#2ca02c" stroke="#2ca02c" stroke-width="1.0" stroke-linejoin="miter"/>
<path d="M384.63 322.15L387.18 327.25L382.08 327.25Z" fill="#2ca02c" stroke="#2ca02c" stroke-width="1.0" stroke-linejoin="miter"/>
<path d="M397.70 321.75L400.25 326.85L395.15 326.85Z" fill="#2ca02c" stroke="#2ca02c" stroke-width="1.0" stroke-linejoin="miter"/>
<path d="M410.77 322.65L413.32 327.75L408.22 327.75Z" fill="#2ca02c" stroke="#2ca02c" stroke-width="1.0" stroke-linejoin="miter"/>
<path d="M423.83 323.05L426.38 328.15L421.28 328.15Z" fill="#2ca02c" stroke="#2ca02c" stroke-width="1.0" stroke-linejoin="miter"/>
<path d="M436.90 322.35L439.45 327.45L434.35 327.45Z" fill="#2ca02c" stroke="#2ca02c" stroke-width="1.0" stroke-linejoin="miter"/>
<path d="M449.97 322.35L452.52 327.45L447.42 327.45Z" fill="#2ca02c" stroke="#2ca02c" stroke-width="1.0" stroke-linejoin="miter"/>
<text x="519.16" y="314.20" font-size="6.89" fill="#111" stroke="#111" stroke-width="0.2" textLength="136.50" lengthAdjust="spacingAndGlyphs">test_edge = ASSOCIATED_WITH_DOawDO</text>
<line x1="486.30" y1="415.70" x2="489.30" y2="415.70" stroke="#262626" stroke-width="0.9" stroke-linecap="butt"/>
<text x="466.20" y="418.50" font-size="6.89" fill="#111" stroke="#111" stroke-width="0.2" textLength="18.20" lengthAdjust="spacingAndGlyphs">0.785</text>
<line x1="486.30" y1="393.60" x2="489.30" y2="393.60" stroke="#262626" stroke-width="0.9" stroke-linecap="butt"/>
<text x="466.07" y="396.40" font-size="6.89" fill="#111" stroke="#111" stroke-width="0.2" textLength="18.32" lengthAdjust="spacingAndGlyphs">0.790</text>
<line x1="486.30" y1="371.60" x2="489.30" y2="371.60" stroke="#262626" stroke-width="0.9" stroke-linecap="butt"/>
<text x="466.20" y="374.40" font-size="6.89" fill="#111" stroke="#111" stroke-width="0.2" textLength="18.20" lengthAdjust="spacingAndGlyphs">0.795</text>
<line x1="486.30" y1="349.60" x2="489.30" y2="349.60" stroke="#262626" stroke-width="0.9" stroke-linecap="butt"/>
<text x="466.07" y="352.40" font-size="6.89" fill="#111" stroke="#111" stroke-width="0.2" textLength="18.32" lengthAdjust="spacingAndGlyphs">0.800</text>
<line x1="486.30" y1="327.60" x2="489.30" y2="327.60" stroke="#262626" stroke-width="0.9" stroke-linecap="butt"/>
<text x="466.20" y="330.40" font-size="6.89" fill="#111" stroke="#111" stroke-width="0.2" textLength="18.20" lengthAdjust="spacingAndGlyphs">0.805</text>
<line x1="495.83" y1="416.50" x2="495.83" y2="419.10" stroke="#262626" stroke-width="0.9" stroke-linecap="butt"/>
<text transform="translate(495.38,428.70) rotate(-45) translate(-8.25,2.37)" x="0" y="0" font-size="6.89" fill="#111" stroke="#111" stroke-width="0.35" textLength="16.24" lengthAdjust="spacingAndGlyphs">1950</text>
<line x1="508.90" y1="416.50" x2="508.90" y2="419.10" stroke="#262626" stroke-width="0.9" stroke-linecap="butt"/>
<text transform="translate(508.45,428.70) rotate(-45) translate(-8.18,2.37)" x="0" y="0" font-size="6.89" fill="#111" stroke="#111" stroke-width="0.35" textLength="16.12" lengthAdjust="spacingAndGlyphs">1955</text>
<line x1="521.97" y1="416.50" x2="521.97" y2="419.10" stroke="#262626" stroke-width="0.9" stroke-linecap="butt"/>
<text transform="translate(521.52,428.70) rotate(-45) translate(-8.25,2.37)" x="0" y="0" font-size="6.89" fill="#111" stroke="#111" stroke-width="0.35" textLength="16.24" lengthAdjust="spacingAndGlyphs">1960</text>
<line x1="535.03" y1="416.50" x2="535.03" y2="419.10" stroke="#262626" stroke-width="0.9" stroke-linecap="butt"/>
<text transform="translate(534.58,428.70) rotate(-45) translate(-8.18,2.37)" x="0" y="0" font-size="6.89" fill="#111" stroke="#111" stroke-width="0.35" textLength="16.12" lengthAdjust="spacingAndGlyphs">1965</text>
<line x1="548.10" y1="416.50" x2="548.10" y2="419.10" stroke="#262626" stroke-width="0.9" stroke-linecap="butt"/>
<text transform="translate(547.65,428.70) rotate(-45) translate(-8.25,2.37)" x="0" y="0" font-size="6.89" fill="#111" stroke="#111" stroke-width="0.35" textLength="16.24" lengthAdjust="spacingAndGlyphs">1970</text>
<line x1="561.17" y1="416.50" x2="561.17" y2="419.10" stroke="#262626" stroke-width="0.9" stroke-linecap="butt"/>
<text transform="translate(560.72,428.70) rotate(-45) translate(-8.18,2.37)" x="0" y="0" font-size="6.89" fill="#111" stroke="#111" stroke-width="0.35" textLength="16.12" lengthAdjust="spacingAndGlyphs">1975</text>
<line x1="574.23" y1="416.50" x2="574.23" y2="419.10" stroke="#262626" stroke-width="0.9" stroke-linecap="butt"/>
<text transform="translate(573.78,428.70) rotate(-45) translate(-8.25,2.37)" x="0" y="0" font-size="6.89" fill="#111" stroke="#111" stroke-width="0.35" textLength="16.24" lengthAdjust="spacingAndGlyphs">1980</text>
<line x1="587.30" y1="416.50" x2="587.30" y2="419.10" stroke="#262626" stroke-width="0.9" stroke-linecap="butt"/>
<text transform="translate(586.85,428.70) rotate(-45) translate(-8.18,2.37)" x="0" y="0" font-size="6.89" fill="#111" stroke="#111" stroke-width="0.35" textLength="16.12" lengthAdjust="spacingAndGlyphs">1985</text>
<line x1="600.37" y1="416.50" x2="600.37" y2="419.10" stroke="#262626" stroke-width="0.9" stroke-linecap="butt"/>
<text transform="translate(599.92,428.70) rotate(-45) translate(-8.25,2.37)" x="0" y="0" font-size="6.89" fill="#111" stroke="#111" stroke-width="0.35" textLength="16.24" lengthAdjust="spacingAndGlyphs">1990</text>
<line x1="613.43" y1="416.50" x2="613.43" y2="419.10" stroke="#262626" stroke-width="0.9" stroke-linecap="butt"/>
<text transform="translate(612.98,428.70) rotate(-45) translate(-8.18,2.37)" x="0" y="0" font-size="6.89" fill="#111" stroke="#111" stroke-width="0.35" textLength="16.12" lengthAdjust="spacingAndGlyphs">1995</text>
<line x1="626.50" y1="416.50" x2="626.50" y2="419.10" stroke="#262626" stroke-width="0.9" stroke-linecap="butt"/>
<text transform="translate(626.05,428.70) rotate(-45) translate(-8.19,2.37)" x="0" y="0" font-size="6.89" fill="#111" stroke="#111" stroke-width="0.35" textLength="16.29" lengthAdjust="spacingAndGlyphs">2000</text>
<line x1="639.57" y1="416.50" x2="639.57" y2="419.10" stroke="#262626" stroke-width="0.9" stroke-linecap="butt"/>
<text transform="translate(639.12,428.70) rotate(-45) translate(-8.11,2.37)" x="0" y="0" font-size="6.89" fill="#111" stroke="#111" stroke-width="0.35" textLength="16.17" lengthAdjust="spacingAndGlyphs">2005</text>
<line x1="652.63" y1="416.50" x2="652.63" y2="419.10" stroke="#262626" stroke-width="0.9" stroke-linecap="butt"/>
<text transform="translate(652.18,428.70) rotate(-45) translate(-8.19,2.37)" x="0" y="0" font-size="6.89" fill="#111" stroke="#111" stroke-width="0.35" textLength="16.29" lengthAdjust="spacingAndGlyphs">2010</text>
<line x1="665.70" y1="416.50" x2="665.70" y2="419.10" stroke="#262626" stroke-width="0.9" stroke-linecap="butt"/>
<text transform="translate(665.25,428.70) rotate(-45) translate(-8.11,2.37)" x="0" y="0" font-size="6.89" fill="#111" stroke="#111" stroke-width="0.35" textLength="16.17" lengthAdjust="spacingAndGlyphs">2015</text>
<line x1="678.77" y1="416.50" x2="678.77" y2="419.10" stroke="#262626" stroke-width="0.9" stroke-linecap="butt"/>
<text transform="translate(678.32,428.70) rotate(-45) translate(-8.19,2.37)" x="0" y="0" font-size="6.89" fill="#111" stroke="#111" stroke-width="0.35" textLength="16.29" lengthAdjust="spacingAndGlyphs">2020</text>
<line x1="489.30" y1="317.80" x2="489.30" y2="417.00" stroke="#262626" stroke-width="1.0" stroke-linecap="butt"/>
<line x1="488.80" y1="416.50" x2="685.30" y2="416.50" stroke="#262626" stroke-width="1.0" stroke-linecap="butt"/>
<polyline points="495.83,410.40 508.90,399.00 521.97,399.00 535.03,382.30 548.10,368.30 561.17,371.80 574.23,358.30 587.30,358.30 600.37,362.50 613.43,335.00 626.50,337.10 639.57,337.70 652.63,328.00 665.70,324.20 678.77,331.50" fill="none" stroke="#ff7f0e" stroke-width="2.0" stroke-linejoin="round" stroke-linecap="round"/>
<path d="M493.38 407.95L498.28 412.85M493.38 412.85L498.28 407.95" stroke="#ff7f0e" stroke-width="1.5" fill="none"/>
<path d="M506.45 396.55L511.35 401.45M506.45 401.45L511.35 396.55" stroke="#ff7f0e" stroke-width="1.5" fill="none"/>
<path d="M519.52 396.55L524.42 401.45M519.52 401.45L524.42 396.55" stroke="#ff7f0e" stroke-width="1.5" fill="none"/>
<path d="M532.58 379.85L537.48 384.75M532.58 384.75L537.48 379.85" stroke="#ff7f0e" stroke-width="1.5" fill="none"/>
<path d="M545.65 365.85L550.55 370.75M545.65 370.75L550.55 365.85" stroke="#ff7f0e" stroke-width="1.5" fill="none"/>
<path d="M558.72 369.35L563.62 374.25M558.72 374.25L563.62 369.35" stroke="#ff7f0e" stroke-width="1.5" fill="none"/>
<path d="M571.78 355.85L576.68 360.75M571.78 360.75L576.68 355.85" stroke="#ff7f0e" stroke-width="1.5" fill="none"/>
<path d="M584.85 355.85L589.75 360.75M584.85 360.75L589.75 355.85" stroke="#ff7f0e" stroke-width="1.5" fill="none"/>
<path d="M597.92 360.05L602.82 364.95M597.92 364.95L602.82 360.05" stroke="#ff7f0e" stroke-width="1.5" fill="none"/>
<path d="M610.98 332.55L615.88 337.45M610.98 337.45L615.88 332.55" stroke="#ff7f0e" stroke-width="1.5" fill="none"/>
<path d="M624.05 334.65L628.95 339.55M624.05 339.55L628.95 334.65" stroke="#ff7f0e" stroke-width="1.5" fill="none"/>
<path d="M637.12 335.25L642.02 340.15M637.12 340.15L642.02 335.25" stroke="#ff7f0e" stroke-width="1.5" fill="none"/>
<path d="M650.18 325.55L655.08 330.45M650.18 330.45L655.08 325.55" stroke="#ff7f0e" stroke-width="1.5" fill="none"/>
<path d="M663.25 321.75L668.15 326.65M663.25 326.65L668.15 321.75" stroke="#ff7f0e" stroke-width="1.5" fill="none"/>
<path d="M676.32 329.05L681.22 333.95M676.32 333.95L681.22 329.05" stroke="#ff7f0e" stroke-width="1.5" fill="none"/>
<text x="75.04" y="449.40" font-size="6.89" fill="#111" stroke="#111" stroke-width="0.2" textLength="110.15" lengthAdjust="spacingAndGlyphs">test_edge = LOCATION_OF_AloCD</text>
<line x1="29.00" y1="546.20" x2="32.00" y2="546.20" stroke="#262626" stroke-width="0.9" stroke-linecap="butt"/>
<text x="8.77" y="549.00" font-size="6.89" fill="#111" stroke="#111" stroke-width="0.2" textLength="18.32" lengthAdjust="spacingAndGlyphs">0.780</text>
<line x1="29.00" y1="528.10" x2="32.00" y2="528.10" stroke="#262626" stroke-width="0.9" stroke-linecap="butt"/>
<text x="8.90" y="530.90" font-size="6.89" fill="#111" stroke="#111" stroke-width="0.2" textLength="18.20" lengthAdjust="spacingAndGlyphs">0.785</text>
<line x1="29.00" y1="510.00" x2="32.00" y2="510.00" stroke="#262626" stroke-width="0.9" stroke-linecap="butt"/>
<text x="8.77" y="512.80" font-size="6.89" fill="#111" stroke="#111" stroke-width="0.2" textLength="18.32" lengthAdjust="spacingAndGlyphs">0.790</text>
<line x1="29.00" y1="491.90" x2="32.00" y2="491.90" stroke="#262626" stroke-width="0.9" stroke-linecap="butt"/>
<text x="8.90" y="494.70" font-size="6.89" fill="#111" stroke="#111" stroke-width="0.2" textLength="18.20" lengthAdjust="spacingAndGlyphs">0.795</text>
<line x1="29.00" y1="473.80" x2="32.00" y2="473.80" stroke="#262626" stroke-width="0.9" stroke-linecap="butt"/>
<text x="8.77" y="476.60" font-size="6.89" fill="#111" stroke="#111" stroke-width="0.2" textLength="18.32" lengthAdjust="spacingAndGlyphs">0.800</text>
<line x1="29.00" y1="455.70" x2="32.00" y2="455.70" stroke="#262626" stroke-width="0.9" stroke-linecap="butt"/>
<text x="8.90" y="458.50" font-size="6.89" fill="#111" stroke="#111" stroke-width="0.2" textLength="18.20" lengthAdjust="spacingAndGlyphs">0.805</text>
<line x1="38.53" y1="551.50" x2="38.53" y2="554.10" stroke="#262626" stroke-width="0.9" stroke-linecap="butt"/>
<text transform="translate(38.08,563.70) rotate(-45) translate(-8.25,2.37)" x="0" y="0" font-size="6.89" fill="#111" stroke="#111" stroke-width="0.35" textLength="16.24" lengthAdjust="spacingAndGlyphs">1950</text>
<line x1="51.60" y1="551.50" x2="51.60" y2="554.10" stroke="#262626" stroke-width="0.9" stroke-linecap="butt"/>
<text transform="translate(51.15,563.70) rotate(-45) translate(-8.18,2.37)" x="0" y="0" font-size="6.89" fill="#111" stroke="#111" stroke-width="0.35" textLength="16.12" lengthAdjust="spacingAndGlyphs">1955</text>
<line x1="64.67" y1="551.50" x2="64.67" y2="554.10" stroke="#262626" stroke-width="0.9" stroke-linecap="butt"/>
<text transform="translate(64.22,563.70) rotate(-45) translate(-8.25,2.37)" x="0" y="0" font-size="6.89" fill="#111" stroke="#111" stroke-width="0.35" textLength="16.24" lengthAdjust="spacingAndGlyphs">1960</text>
<line x1="77.73" y1="551.50" x2="77.73" y2="554.10" stroke="#262626" stroke-width="0.9" stroke-linecap="butt"/>
<text transform="translate(77.28,563.70) rotate(-45) translate(-8.18,2.37)" x="0" y="0" font-size="6.89" fill="#111" stroke="#111" stroke-width="0.35" textLength="16.12" lengthAdjust="spacingAndGlyphs">1965</text>
<line x1="90.80" y1="551.50" x2="90.80" y2="554.10" stroke="#262626" stroke-width="0.9" stroke-linecap="butt"/>
<text transform="translate(90.35,563.70) rotate(-45) translate(-8.25,2.37)" x="0" y="0" font-size="6.89" fill="#111" stroke="#111" stroke-width="0.35" textLength="16.24" lengthAdjust="spacingAndGlyphs">1970</text>
<line x1="103.87" y1="551.50" x2="103.87" y2="554.10" stroke="#262626" stroke-width="0.9" stroke-linecap="butt"/>
<text transform="translate(103.42,563.70) rotate(-45) translate(-8.18,2.37)" x="0" y="0" font-size="6.89" fill="#111" stroke="#111" stroke-width="0.35" textLength="16.12" lengthAdjust="spacingAndGlyphs">1975</text>
<line x1="116.93" y1="551.50" x2="116.93" y2="554.10" stroke="#262626" stroke-width="0.9" stroke-linecap="butt"/>
<text transform="translate(116.48,563.70) rotate(-45) translate(-8.25,2.37)" x="0" y="0" font-size="6.89" fill="#111" stroke="#111" stroke-width="0.35" textLength="16.24" lengthAdjust="spacingAndGlyphs">1980</text>
<line x1="130.00" y1="551.50" x2="130.00" y2="554.10" stroke="#262626" stroke-width="0.9" stroke-linecap="butt"/>
<text transform="translate(129.55,563.70) rotate(-45) translate(-8.18,2.37)" x="0" y="0" font-size="6.89" fill="#111" stroke="#111" stroke-width="0.35" textLength="16.12" lengthAdjust="spacingAndGlyphs">1985</text>
<line x1="143.07" y1="551.50" x2="143.07" y2="554.10" stroke="#262626" stroke-width="0.9" stroke-linecap="butt"/>
<text transform="translate(142.62,563.70) rotate(-45) translate(-8.25,2.37)" x="0" y="0" font-size="6.89" fill="#111" stroke="#111" stroke-width="0.35" textLength="16.24" lengthAdjust="spacingAndGlyphs">1990</text>
<line x1="156.13" y1="551.50" x2="156.13" y2="554.10" stroke="#262626" stroke-width="0.9" stroke-linecap="butt"/>
<text transform="translate(155.68,563.70) rotate(-45) translate(-8.18,2.37)" x="0" y="0" font-size="6.89" fill="#111" stroke="#111" stroke-width="0.35" textLength="16.12" lengthAdjust="spacingAndGlyphs">1995</text>
<line x1="169.20" y1="551.50" x2="169.20" y2="554.10" stroke="#262626" stroke-width="0.9" stroke-linecap="butt"/>
<text transform="translate(168.75,563.70) rotate(-45) translate(-8.19,2.37)" x="0" y="0" font-size="6.89" fill="#111" stroke="#111" stroke-width="0.35" textLength="16.29" lengthAdjust="spacingAndGlyphs">2000</text>
<line x1="182.27" y1="551.50" x2="182.27" y2="554.10" stroke="#262626" stroke-width="0.9" stroke-linecap="butt"/>
<text transform="translate(181.82,563.70) rotate(-45) translate(-8.11,2.37)" x="0" y="0" font-size="6.89" fill="#111" stroke="#111" stroke-width="0.35" textLength="16.17" lengthAdjust="spacingAndGlyphs">2005</text>
<line x1="195.33" y1="551.50" x2="195.33" y2="554.10" stroke="#262626" stroke-width="0.9" stroke-linecap="butt"/>
<text transform="translate(194.88,563.70) rotate(-45) translate(-8.19,2.37)" x="0" y="0" font-size="6.89" fill="#111" stroke="#111" stroke-width="0.35" textLength="16.29" lengthAdjust="spacingAndGlyphs">2010</text>
<line x1="208.40" y1="551.50" x2="208.40" y2="554.10" stroke="#262626" stroke-width="0.9" stroke-linecap="butt"/>
<text transform="translate(207.95,563.70) rotate(-45) translate(-8.11,2.37)" x="0" y="0" font-size="6.89" fill="#111" stroke="#111" stroke-width="0.35" textLength="16.17" lengthAdjust="spacingAndGlyphs">2015</text>
<line x1="221.47" y1="551.50" x2="221.47" y2="554.10" stroke="#262626" stroke-width="0.9" stroke-linecap="butt"/>
<text transform="translate(221.02,563.70) rotate(-45) translate(-8.19,2.37)" x="0" y="0" font-size="6.89" fill="#111" stroke="#111" stroke-width="0.35" textLength="16.29" lengthAdjust="spacingAndGlyphs">2020</text>
<line x1="32.00" y1="453.00" x2="32.00" y2="552.00" stroke="#262626" stroke-width="1.0" stroke-linecap="butt"/>
<line x1="31.50" y1="551.50" x2="228.00" y2="551.50" stroke="#262626" stroke-width="1.0" stroke-linecap="butt"/>
<polyline points="38.53,524.30 51.60,517.10 64.67,517.90 77.73,511.50 90.80,513.20 103.87,525.90 116.93,544.70 130.00,481.30 143.07,459.30 156.13,477.30 169.20,467.20 182.27,474.20 195.33,466.30 208.40,475.00 221.47,475.40" fill="none" stroke="#d62728" stroke-width="2.0" stroke-linejoin="round" stroke-linecap="round"/>
<path d="M36.08 524.30L40.98 524.30M38.53 521.85L38.53 526.75" stroke="#d62728" stroke-width="1.5" fill="none"/>
<path d="M49.15 517.10L54.05 517.10M51.60 514.65L51.60 519.55" stroke="#d62728" stroke-width="1.5" fill="none"/>
<path d="M62.22 517.90L67.12 517.90M64.67 515.45L64.67 520.35" stroke="#d62728" stroke-width="1.5" fill="none"/>
<path d="M75.28 511.50L80.18 511.50M77.73 509.05L77.73 513.95" stroke="#d62728" stroke-width="1.5" fill="none"/>
<path d="M88.35 513.20L93.25 513.20M90.80 510.75L90.80 515.65" stroke="#d62728" stroke-width="1.5" fill="none"/>
<path d="M101.42 525.90L106.32 525.90M103.87 523.45L103.87 528.35" stroke="#d62728" stroke-width="1.5" fill="none"/>
<path d="M114.48 544.70L119.38 544.70M116.93 542.25L116.93 547.15" stroke="#d62728" stroke-width="1.5" fill="none"/>
<path d="M127.55 481.30L132.45 481.30M130.00 478.85L130.00 483.75" stroke="#d62728" stroke-width="1.5" fill="none"/>
<path d="M140.62 459.30L145.52 459.30M143.07 456.85L143.07 461.75" stroke="#d62728" stroke-width="1.5" fill="none"/>
<path d="M153.68 477.30L158.58 477.30M156.13 474.85L156.13 479.75" stroke="#d62728" stroke-width="1.5" fill="none"/>
<path d="M166.75 467.20L171.65 467.20M169.20 464.75L169.20 469.65" stroke="#d62728" stroke-width="1.5" fill="none"/>
<path d="M179.82 474.20L184.72 474.20M182.27 471.75L182.27 476.65" stroke="#d62728" stroke-width="1.5" fill="none"/>
<path d="M192.88 466.30L197.78 466.30M195.33 463.85L195.33 468.75" stroke="#d62728" stroke-width="1.5" fill="none"/>
<path d="M205.95 475.00L210.85 475.00M208.40 472.55L208.40 477.45" stroke="#d62728" stroke-width="1.5" fill="none"/>
<path d="M219.02 475.40L223.92 475.40M221.47 472.95L221.47 477.85" stroke="#d62728" stroke-width="1.5" fill="none"/>
<text x="311.69" y="449.40" font-size="6.89" fill="#111" stroke="#111" stroke-width="0.2" textLength="93.85" lengthAdjust="spacingAndGlyphs">test_edge = INHIBITS_GinDO</text>
<line x1="257.50" y1="528.40" x2="260.50" y2="528.40" stroke="#262626" stroke-width="0.9" stroke-linecap="butt"/>
<text x="237.28" y="531.20" font-size="6.89" fill="#111" stroke="#111" stroke-width="0.2" textLength="18.34" lengthAdjust="spacingAndGlyphs">0.798</text>
<line x1="257.50" y1="504.60" x2="260.50" y2="504.60" stroke="#262626" stroke-width="0.9" stroke-linecap="butt"/>
<text x="237.27" y="507.40" font-size="6.89" fill="#111" stroke="#111" stroke-width="0.2" textLength="18.32" lengthAdjust="spacingAndGlyphs">0.800</text>
<line x1="257.50" y1="480.80" x2="260.50" y2="480.80" stroke="#262626" stroke-width="0.9" stroke-linecap="butt"/>
<text x="237.49" y="483.60" font-size="6.89" fill="#111" stroke="#111" stroke-width="0.2" textLength="18.18" lengthAdjust="spacingAndGlyphs">0.802</text>
<line x1="257.50" y1="457.10" x2="260.50" y2="457.10" stroke="#262626" stroke-width="0.9" stroke-linecap="butt"/>
<text x="237.20" y="459.90" font-size="6.89" fill="#111" stroke="#111" stroke-width="0.2" textLength="18.32" lengthAdjust="spacingAndGlyphs">0.804</text>
<line x1="267.03" y1="551.50" x2="267.03" y2="554.10" stroke="#262626" stroke-width="0.9" stroke-linecap="butt"/>
<text transform="translate(266.58,563.70) rotate(-45) translate(-8.25,2.37)" x="0" y="0" font-size="6.89" fill="#111" stroke="#111" stroke-width="0.35" textLength="16.24" lengthAdjust="spacingAndGlyphs">1950</text>
<line x1="280.10" y1="551.50" x2="280.10" y2="554.10" stroke="#262626" stroke-width="0.9" stroke-linecap="butt"/>
<text transform="translate(279.65,563.70) rotate(-45) translate(-8.18,2.37)" x="0" y="0" font-size="6.89" fill="#111" stroke="#111" stroke-width="0.35" textLength="16.12" lengthAdjust="spacingAndGlyphs">1955</text>
<line x1="293.17" y1="551.50" x2="293.17" y2="554.10" stroke="#262626" stroke-width="0.9" stroke-linecap="butt"/>
<text transform="translate(292.72,563.70) rotate(-45) translate(-8.25,2.37)" x="0" y="0" font-size="6.89" fill="#111" stroke="#111" stroke-width="0.35" textLength="16.24" lengthAdjust="spacingAndGlyphs">1960</text>
<line x1="306.23" y1="551.50" x2="306.23" y2="554.10" stroke="#262626" stroke-width="0.9" stroke-linecap="butt"/>
<text transform="translate(305.78,563.70) rotate(-45) translate(-8.18,2.37)" x="0" y="0" font-size="6.89" fill="#111" stroke="#111" stroke-width="0.35" textLength="16.12" lengthAdjust="spacingAndGlyphs">1965</text>
<line x1="319.30" y1="551.50" x2="319.30" y2="554.10" stroke="#262626" stroke-width="0.9" stroke-linecap="butt"/>
<text transform="translate(318.85,563.70) rotate(-45) translate(-8.25,2.37)" x="0" y="0" font-size="6.89" fill="#111" stroke="#111" stroke-width="0.35" textLength="16.24" lengthAdjust="spacingAndGlyphs">1970</text>
<line x1="332.37" y1="551.50" x2="332.37" y2="554.10" stroke="#262626" stroke-width="0.9" stroke-linecap="butt"/>
<text transform="translate(331.92,563.70) rotate(-45) translate(-8.18,2.37)" x="0" y="0" font-size="6.89" fill="#111" stroke="#111" stroke-width="0.35" textLength="16.12" lengthAdjust="spacingAndGlyphs">1975</text>
<line x1="345.43" y1="551.50" x2="345.43" y2="554.10" stroke="#262626" stroke-width="0.9" stroke-linecap="butt"/>
<text transform="translate(344.98,563.70) rotate(-45) translate(-8.25,2.37)" x="0" y="0" font-size="6.89" fill="#111" stroke="#111" stroke-width="0.35" textLength="16.24" lengthAdjust="spacingAndGlyphs">1980</text>
<line x1="358.50" y1="551.50" x2="358.50" y2="554.10" stroke="#262626" stroke-width="0.9" stroke-linecap="butt"/>
<text transform="translate(358.05,563.70) rotate(-45) translate(-8.18,2.37)" x="0" y="0" font-size="6.89" fill="#111" stroke="#111" stroke-width="0.35" textLength="16.12" lengthAdjust="spacingAndGlyphs">1985</text>
<line x1="371.57" y1="551.50" x2="371.57" y2="554.10" stroke="#262626" stroke-width="0.9" stroke-linecap="butt"/>
<text transform="translate(371.12,563.70) rotate(-45) translate(-8.25,2.37)" x="0" y="0" font-size="6.89" fill="#111" stroke="#111" stroke-width="0.35" textLength="16.24" lengthAdjust="spacingAndGlyphs">1990</text>
<line x1="384.63" y1="551.50" x2="384.63" y2="554.10" stroke="#262626" stroke-width="0.9" stroke-linecap="butt"/>
<text transform="translate(384.18,563.70) rotate(-45) translate(-8.18,2.37)" x="0" y="0" font-size="6.89" fill="#111" stroke="#111" stroke-width="0.35" textLength="16.12" lengthAdjust="spacingAndGlyphs">1995</text>
<line x1="397.70" y1="551.50" x2="397.70" y2="554.10" stroke="#262626" stroke-width="0.9" stroke-linecap="butt"/>
<text transform="translate(397.25,563.70) rotate(-45) translate(-8.19,2.37)" x="0" y="0" font-size="6.89" fill="#111" stroke="#111" stroke-width="0.35" textLength="16.29" lengthAdjust="spacingAndGlyphs">2000</text>
<line x1="410.77" y1="551.50" x2="410.77" y2="554.10" stroke="#262626" stroke-width="0.9" stroke-linecap="butt"/>
<text transform="translate(410.32,563.70) rotate(-45) translate(-8.11,2.37)" x="0" y="0" font-size="6.89" fill="#111" stroke="#111" stroke-width="0.35" textLength="16.17" lengthAdjust="spacingAndGlyphs">2005</text>
<line x1="423.83" y1="551.50" x2="423.83" y2="554.10" stroke="#262626" stroke-width="0.9" stroke-linecap="butt"/>
<text transform="translate(423.38,563.70) rotate(-45) translate(-8.19,2.37)" x="0" y="0" font-size="6.89" fill="#111" stroke="#111" stroke-width="0.35" textLength="16.29" lengthAdjust="spacingAndGlyphs">2010</text>
<line x1="436.90" y1="551.50" x2="436.90" y2="554.10" stroke="#262626" stroke-width="0.9" stroke-linecap="butt"/>
<text transform="translate(436.45,563.70) rotate(-45) translate(-8.11,2.37)" x="0" y="0" font-size="6.89" fill="#111" stroke="#111" stroke-width="0.35" textLength="16.17" lengthAdjust="spacingAndGlyphs">2015</text>
<line x1="449.97" y1="551.50" x2="449.97" y2="554.10" stroke="#262626" stroke-width="0.9" stroke-linecap="butt"/>
<text transform="translate(449.52,563.70) rotate(-45) translate(-8.19,2.37)" x="0" y="0" font-size="6.89" fill="#111" stroke="#111" stroke-width="0.35" textLength="16.29" lengthAdjust="spacingAndGlyphs">2020</text>
<line x1="260.50" y1="453.00" x2="260.50" y2="552.00" stroke="#262626" stroke-width="1.0" stroke-linecap="butt"/>
<line x1="260.00" y1="551.50" x2="456.50" y2="551.50" stroke="#262626" stroke-width="1.0" stroke-linecap="butt"/>
<polyline points="267.03,524.90 280.10,504.50 293.17,495.90 306.23,468.70 319.30,459.10 332.37,473.80 345.43,501.40 358.50,528.50 371.57,502.40 384.63,544.70 397.70,522.90 410.77,535.20 423.83,532.20 436.90,542.20 449.97,511.90" fill="none" stroke="#e377c2" stroke-width="2.0" stroke-linejoin="round" stroke-linecap="round"/>
<rect x="264.48" y="522.35" width="5.10" height="5.10" fill="#e377c2" stroke="#e377c2" stroke-width="1.0" stroke-linejoin="miter"/>
<rect x="277.55" y="501.95" width="5.10" height="5.10" fill="#e377c2" stroke="#e377c2" stroke-width="1.0" stroke-linejoin="miter"/>
<rect x="290.62" y="493.35" width="5.10" height="5.10" fill="#e377c2" stroke="#e377c2" stroke-width="1.0" stroke-linejoin="miter"/>
<rect x="303.68" y="466.15" width="5.10" height="5.10" fill="#e377c2" stroke="#e377c2" stroke-width="1.0" stroke-linejoin="miter"/>
<rect x="316.75" y="456.55" width="5.10" height="5.10" fill="#e377c2" stroke="#e377c2" stroke-width="1.0" stroke-linejoin="miter"/>
<rect x="329.82" y="471.25" width="5.10" height="5.10" fill="#e377c2" stroke="#e377c2" stroke-width="1.0" stroke-linejoin="miter"/>
<rect x="342.88" y="498.85" width="5.10" height="5.10" fill="#e377c2" stroke="#e377c2" stroke-width="1.0" stroke-linejoin="miter"/>
<rect x="355.95" y="525.95" width="5.10" height="5.10" fill="#e377c2" stroke="#e377c2" stroke-width="1.0" stroke-linejoin="miter"/>
<rect x="369.02" y="499.85" width="5.10" height="5.10" fill="#e377c2" stroke="#e377c2" stroke-width="1.0" stroke-linejoin="miter"/>
<rect x="382.08" y="542.15" width="5.10" height="5.10" fill="#e377c2" stroke="#e377c2" stroke-width="1.0" stroke-linejoin="miter"/>
<rect x="395.15" y="520.35" width="5.10" height="5.10" fill="#e377c2" stroke="#e377c2" stroke-width="1.0" stroke-linejoin="miter"/>
<rect x="408.22" y="532.65" width="5.10" height="5.10" fill="#e377c2" stroke="#e377c2" stroke-width="1.0" stroke-linejoin="miter"/>
<rect x="421.28" y="529.65" width="5.10" height="5.10" fill="#e377c2" stroke="#e377c2" stroke-width="1.0" stroke-linejoin="miter"/>
<rect x="434.35" y="539.65" width="5.10" height="5.10" fill="#e377c2" stroke="#e377c2" stroke-width="1.0" stroke-linejoin="miter"/>
<rect x="447.42" y="509.35" width="5.10" height="5.10" fill="#e377c2" stroke="#e377c2" stroke-width="1.0" stroke-linejoin="miter"/>
<text x="525.84" y="449.40" font-size="6.89" fill="#111" stroke="#111" stroke-width="0.2" textLength="123.33" lengthAdjust="spacingAndGlyphs">test_edge = INTERACTS_WITH_CDiwG</text>
<line x1="486.30" y1="539.00" x2="489.30" y2="539.00" stroke="#262626" stroke-width="0.9" stroke-linecap="butt"/>
<text x="466.00" y="541.80" font-size="6.89" fill="#111" stroke="#111" stroke-width="0.2" textLength="18.32" lengthAdjust="spacingAndGlyphs">0.794</text>
<line x1="486.30" y1="523.70" x2="489.30" y2="523.70" stroke="#262626" stroke-width="0.9" stroke-linecap="butt"/>
<text x="466.04" y="526.50" font-size="6.89" fill="#111" stroke="#111" stroke-width="0.2" textLength="18.38" lengthAdjust="spacingAndGlyphs">0.796</text>
<line x1="486.30" y1="508.30" x2="489.30" y2="508.30" stroke="#262626" stroke-width="0.9" stroke-linecap="butt"/>
<text x="466.08" y="511.10" font-size="6.89" fill="#111" stroke="#111" stroke-width="0.2" textLength="18.34" lengthAdjust="spacingAndGlyphs">0.798</text>
<line x1="486.30" y1="492.90" x2="489.30" y2="492.90" stroke="#262626" stroke-width="0.9" stroke-linecap="butt"/>
<text x="466.07" y="495.70" font-size="6.89" fill="#111" stroke="#111" stroke-width="0.2" textLength="18.32" lengthAdjust="spacingAndGlyphs">0.800</text>
<line x1="486.30" y1="477.60" x2="489.30" y2="477.60" stroke="#262626" stroke-width="0.9" stroke-linecap="butt"/>
<text x="466.29" y="480.40" font-size="6.89" fill="#111" stroke="#111" stroke-width="0.2" textLength="18.18" lengthAdjust="spacingAndGlyphs">0.802</text>
<line x1="486.30" y1="462.30" x2="489.30" y2="462.30" stroke="#262626" stroke-width="0.9" stroke-linecap="butt"/>
<text x="466.00" y="465.10" font-size="6.89" fill="#111" stroke="#111" stroke-width="0.2" textLength="18.32" lengthAdjust="spacingAndGlyphs">0.804</text>
<line x1="495.83" y1="551.50" x2="495.83" y2="554.10" stroke="#262626" stroke-width="0.9" stroke-linecap="butt"/>
<text transform="translate(495.38,563.70) rotate(-45) translate(-8.25,2.37)" x="0" y="0" font-size="6.89" fill="#111" stroke="#111" stroke-width="0.35" textLength="16.24" lengthAdjust="spacingAndGlyphs">1950</text>
<line x1="508.90" y1="551.50" x2="508.90" y2="554.10" stroke="#262626" stroke-width="0.9" stroke-linecap="butt"/>
<text transform="translate(508.45,563.70) rotate(-45) translate(-8.18,2.37)" x="0" y="0" font-size="6.89" fill="#111" stroke="#111" stroke-width="0.35" textLength="16.12" lengthAdjust="spacingAndGlyphs">1955</text>
<line x1="521.97" y1="551.50" x2="521.97" y2="554.10" stroke="#262626" stroke-width="0.9" stroke-linecap="butt"/>
<text transform="translate(521.52,563.70) rotate(-45) translate(-8.25,2.37)" x="0" y="0" font-size="6.89" fill="#111" stroke="#111" stroke-width="0.35" textLength="16.24" lengthAdjust="spacingAndGlyphs">1960</text>
<line x1="535.03" y1="551.50" x2="535.03" y2="554.10" stroke="#262626" stroke-width="0.9" stroke-linecap="butt"/>
<text transform="translate(534.58,563.70) rotate(-45) translate(-8.18,2.37)" x="0" y="0" font-size="6.89" fill="#111" stroke="#111" stroke-width="0.35" textLength="16.12" lengthAdjust="spacingAndGlyphs">1965</text>
<line x1="548.10" y1="551.50" x2="548.10" y2="554.10" stroke="#262626" stroke-width="0.9" stroke-linecap="butt"/>
<text transform="translate(547.65,563.70) rotate(-45) translate(-8.25,2.37)" x="0" y="0" font-size="6.89" fill="#111" stroke="#111" stroke-width="0.35" textLength="16.24" lengthAdjust="spacingAndGlyphs">1970</text>
<line x1="561.17" y1="551.50" x2="561.17" y2="554.10" stroke="#262626" stroke-width="0.9" stroke-linecap="butt"/>
<text transform="translate(560.72,563.70) rotate(-45) translate(-8.18,2.37)" x="0" y="0" font-size="6.89" fill="#111" stroke="#111" stroke-width="0.35" textLength="16.12" lengthAdjust="spacingAndGlyphs">1975</text>
<line x1="574.23" y1="551.50" x2="574.23" y2="554.10" stroke="#262626" stroke-width="0.9" stroke-linecap="butt"/>
<text transform="translate(573.78,563.70) rotate(-45) translate(-8.25,2.37)" x="0" y="0" font-size="6.89" fill="#111" stroke="#111" stroke-width="0.35" textLength="16.24" lengthAdjust="spacingAndGlyphs">1980</text>
<line x1="587.30" y1="551.50" x2="587.30" y2="554.10" stroke="#262626" stroke-width="0.9" stroke-linecap="butt"/>
<text transform="translate(586.85,563.70) rotate(-45) translate(-8.18,2.37)" x="0" y="0" font-size="6.89" fill="#111" stroke="#111" stroke-width="0.35" textLength="16.12" lengthAdjust="spacingAndGlyphs">1985</text>
<line x1="600.37" y1="551.50" x2="600.37" y2="554.10" stroke="#262626" stroke-width="0.9" stroke-linecap="butt"/>
<text transform="translate(599.92,563.70) rotate(-45) translate(-8.25,2.37)" x="0" y="0" font-size="6.89" fill="#111" stroke="#111" stroke-width="0.35" textLength="16.24" lengthAdjust="spacingAndGlyphs">1990</text>
<line x1="613.43" y1="551.50" x2="613.43" y2="554.10" stroke="#262626" stroke-width="0.9" stroke-linecap="butt"/>
<text transform="translate(612.98,563.70) rotate(-45) translate(-8.18,2.37)" x="0" y="0" font-size="6.89" fill="#111" stroke="#111" stroke-width="0.35" textLength="16.12" lengthAdjust="spacingAndGlyphs">1995</text>
<line x1="626.50" y1="551.50" x2="626.50" y2="554.10" stroke="#262626" stroke-width="0.9" stroke-linecap="butt"/>
<text transform="translate(626.05,563.70) rotate(-45) translate(-8.19,2.37)" x="0" y="0" font-size="6.89" fill="#111" stroke="#111" stroke-width="0.35" textLength="16.29" lengthAdjust="spacingAndGlyphs">2000</text>
<line x1="639.57" y1="551.50" x2="639.57" y2="554.10" stroke="#262626" stroke-width="0.9" stroke-linecap="butt"/>
<text transform="translate(639.12,563.70) rotate(-45) translate(-8.11,2.37)" x="0" y="0" font-size="6.89" fill="#111" stroke="#111" stroke-width="0.35" textLength="16.17" lengthAdjust="spacingAndGlyphs">2005</text>
<line x1="652.63" y1="551.50" x2="652.63" y2="554.10" stroke="#262626" stroke-width="0.9" stroke-linecap="butt"/>
<text transform="translate(652.18,563.70) rotate(-45) translate(-8.19,2.37)" x="0" y="0" font-size="6.89" fill="#111" stroke="#111" stroke-width="0.35" textLength="16.29" lengthAdjust="spacingAndGlyphs">2010</text>
<line x1="665.70" y1="551.50" x2="665.70" y2="554.10" stroke="#262626" stroke-width="0.9" stroke-linecap="butt"/>
<text transform="translate(665.25,563.70) rotate(-45) translate(-8.11,2.37)" x="0" y="0" font-size="6.89" fill="#111" stroke="#111" stroke-width="0.35" textLength="16.17" lengthAdjust="spacingAndGlyphs">2015</text>
<line x1="678.77" y1="551.50" x2="678.77" y2="554.10" stroke="#262626" stroke-width="0.9" stroke-linecap="butt"/>
<text transform="translate(678.32,563.70) rotate(-45) translate(-8.19,2.37)" x="0" y="0" font-size="6.89" fill="#111" stroke="#111" stroke-width="0.35" textLength="16.29" lengthAdjust="spacingAndGlyphs">2020</text>
<line x1="489.30" y1="453.00" x2="489.30" y2="552.00" stroke="#262626" stroke-width="1.0" stroke-linecap="butt"/>
<line x1="488.80" y1="551.50" x2="685.30" y2="551.50" stroke="#262626" stroke-width="1.0" stroke-linecap="butt"/>
<polyline points="495.83,474.50 508.90,473.00 521.97,511.90 535.03,459.70 548.10,485.90 561.17,542.20 574.23,544.60 587.30,508.60 600.37,531.40 613.43,506.00 626.50,507.40 639.57,522.20 652.63,514.40 665.70,494.20 678.77,487.60" fill="none" stroke="#bcbd22" stroke-width="2.0" stroke-linejoin="round" stroke-linecap="round"/>
<path d="M495.83 470.47L499.86 474.50L495.83 478.53L491.80 474.50Z" fill="#bcbd22" stroke="#bcbd22" stroke-width="1.0" stroke-linejoin="miter"/>
<path d="M508.90 468.97L512.93 473.00L508.90 477.03L504.87 473.00Z" fill="#bcbd22" stroke="#bcbd22" stroke-width="1.0" stroke-linejoin="miter"/>
<path d="M521.97 507.87L526.00 511.90L521.97 515.93L517.94 511.90Z" fill="#bcbd22" stroke="#bcbd22" stroke-width="1.0" stroke-linejoin="miter"/>
<path d="M535.03 455.67L539.06 459.70L535.03 463.73L531.00 459.70Z" fill="#bcbd22" stroke="#bcbd22" stroke-width="1.0" stroke-linejoin="miter"/>
<path d="M548.10 481.87L552.13 485.90L548.10 489.93L544.07 485.90Z" fill="#bcbd22" stroke="#bcbd22" stroke-width="1.0" stroke-linejoin="miter"/>
<path d="M561.17 538.17L565.20 542.20L561.17 546.23L557.14 542.20Z" fill="#bcbd22" stroke="#bcbd22" stroke-width="1.0" stroke-linejoin="miter"/>
<path d="M574.23 540.57L578.26 544.60L574.23 548.63L570.20 544.60Z" fill="#bcbd22" stroke="#bcbd22" stroke-width="1.0" stroke-linejoin="miter"/>
<path d="M587.30 504.57L591.33 508.60L587.30 512.63L583.27 508.60Z" fill="#bcbd22" stroke="#bcbd22" stroke-width="1.0" stroke-linejoin="miter"/>
<path d="M600.37 527.37L604.40 531.40L600.37 535.43L596.34 531.40Z" fill="#bcbd22" stroke="#bcbd22" stroke-width="1.0" stroke-linejoin="miter"/>
<path d="M613.43 501.97L617.46 506.00L613.43 510.03L609.40 506.00Z" fill="#bcbd22" stroke="#bcbd22" stroke-width="1.0" stroke-linejoin="miter"/>
<path d="M626.50 503.37L630.53 507.40L626.50 511.43L622.47 507.40Z" fill="#bcbd22" stroke="#bcbd22" stroke-width="1.0" stroke-linejoin="miter"/>
<path d="M639.57 518.17L643.60 522.20L639.57 526.23L635.54 522.20Z" fill="#bcbd22" stroke="#bcbd22" stroke-width="1.0" stroke-linejoin="miter"/>
<path d="M652.63 510.37L656.66 514.40L652.63 518.43L648.60 514.40Z" fill="#bcbd22" stroke="#bcbd22" stroke-width="1.0" stroke-linejoin="miter"/>
<path d="M665.70 490.17L669.73 494.20L665.70 498.23L661.67 494.20Z" fill="#bcbd22" stroke="#bcbd22" stroke-width="1.0" stroke-linejoin="miter"/>
<path d="M678.77 483.57L682.80 487.60L678.77 491.63L674.74 487.60Z" fill="#bcbd22" stroke="#bcbd22" stroke-width="1.0" stroke-linejoin="miter"/>
<text x="77.36" y="584.50" font-size="6.89" fill="#111" stroke="#111" stroke-width="0.2" textLength="105.68" lengthAdjust="spacingAndGlyphs">test_edge = LOCATION_OF_AloG</text>
<line x1="29.00" y1="677.90" x2="32.00" y2="677.90" stroke="#262626" stroke-width="0.9" stroke-linecap="butt"/>
<text x="8.74" y="680.70" font-size="6.89" fill="#111" stroke="#111" stroke-width="0.2" textLength="18.38" lengthAdjust="spacingAndGlyphs">0.796</text>
<line x1="29.00" y1="663.10" x2="32.00" y2="663.10" stroke="#262626" stroke-width="0.9" stroke-linecap="butt"/>
<text x="8.89" y="665.90" font-size="6.89" fill="#111" stroke="#111" stroke-width="0.2" textLength="18.28" lengthAdjust="spacingAndGlyphs">0.797</text>
<line x1="29.00" y1="648.40" x2="32.00" y2="648.40" stroke="#262626" stroke-width="0.9" stroke-linecap="butt"/>
<text x="8.78" y="651.20" font-size="6.89" fill="#111" stroke="#111" stroke-width="0.2" textLength="18.34" lengthAdjust="spacingAndGlyphs">0.798</text>
<line x1="29.00" y1="633.60" x2="32.00" y2="633.60" stroke="#262626" stroke-width="0.9" stroke-linecap="butt"/>
<text x="8.79" y="636.40" font-size="6.89" fill="#111" stroke="#111" stroke-width="0.2" textLength="18.36" lengthAdjust="spacingAndGlyphs">0.799</text>
<line x1="29.00" y1="618.80" x2="32.00" y2="618.80" stroke="#262626" stroke-width="0.9" stroke-linecap="butt"/>
<text x="8.77" y="621.60" font-size="6.89" fill="#111" stroke="#111" stroke-width="0.2" textLength="18.32" lengthAdjust="spacingAndGlyphs">0.800</text>
<line x1="29.00" y1="604.00" x2="32.00" y2="604.00" stroke="#262626" stroke-width="0.9" stroke-linecap="butt"/>
<text x="8.94" y="606.80" font-size="6.89" fill="#111" stroke="#111" stroke-width="0.2" textLength="18.22" lengthAdjust="spacingAndGlyphs">0.801</text>
<line x1="29.00" y1="589.20" x2="32.00" y2="589.20" stroke="#262626" stroke-width="0.9" stroke-linecap="butt"/>
<text x="8.99" y="592.00" font-size="6.89" fill="#111" stroke="#111" stroke-width="0.2" textLength="18.18" lengthAdjust="spacingAndGlyphs">0.802</text>
<line x1="38.53" y1="686.50" x2="38.53" y2="689.10" stroke="#262626" stroke-width="0.9" stroke-linecap="butt"/>
<text transform="translate(38.08,698.70) rotate(-45) translate(-8.25,2.37)" x="0" y="0" font-size="6.89" fill="#111" stroke="#111" stroke-width="0.35" textLength="16.24" lengthAdjust="spacingAndGlyphs">1950</text>
<line x1="51.60" y1="686.50" x2="51.60" y2="689.10" stroke="#262626" stroke-width="0.9" stroke-linecap="butt"/>
<text transform="translate(51.15,698.70) rotate(-45) translate(-8.18,2.37)" x="0" y="0" font-size="6.89" fill="#111" stroke="#111" stroke-width="0.35" textLength="16.12" lengthAdjust="spacingAndGlyphs">1955</text>
<line x1="64.67" y1="686.50" x2="64.67" y2="689.10" stroke="#262626" stroke-width="0.9" stroke-linecap="butt"/>
<text transform="translate(64.22,698.70) rotate(-45) translate(-8.25,2.37)" x="0" y="0" font-size="6.89" fill="#111" stroke="#111" stroke-width="0.35" textLength="16.24" lengthAdjust="spacingAndGlyphs">1960</text>
<line x1="77.73" y1="686.50" x2="77.73" y2="689.10" stroke="#262626" stroke-width="0.9" stroke-linecap="butt"/>
<text transform="translate(77.28,698.70) rotate(-45) translate(-8.18,2.37)" x="0" y="0" font-size="6.89" fill="#111" stroke="#111" stroke-width="0.35" textLength="16.12" lengthAdjust="spacingAndGlyphs">1965</text>
<line x1="90.80" y1="686.50" x2="90.80" y2="689.10" stroke="#262626" stroke-width="0.9" stroke-linecap="butt"/>
<text transform="translate(90.35,698.70) rotate(-45) translate(-8.25,2.37)" x="0" y="0" font-size="6.89" fill="#111" stroke="#111" stroke-width="0.35" textLength="16.24" lengthAdjust="spacingAndGlyphs">1970</text>
<line x1="103.87" y1="686.50" x2="103.87" y2="689.10" stroke="#262626" stroke-width="0.9" stroke-linecap="butt"/>
<text transform="translate(103.42,698.70) rotate(-45) translate(-8.18,2.37)" x="0" y="0" font-size="6.89" fill="#111" stroke="#111" stroke-width="0.35" textLength="16.12" lengthAdjust="spacingAndGlyphs">1975</text>
<line x1="116.93" y1="686.50" x2="116.93" y2="689.10" stroke="#262626" stroke-width="0.9" stroke-linecap="butt"/>
<text transform="translate(116.48,698.70) rotate(-45) translate(-8.25,2.37)" x="0" y="0" font-size="6.89" fill="#111" stroke="#111" stroke-width="0.35" textLength="16.24" lengthAdjust="spacingAndGlyphs">1980</text>
<line x1="130.00" y1="686.50" x2="130.00" y2="689.10" stroke="#262626" stroke-width="0.9" stroke-linecap="butt"/>
<text transform="translate(129.55,698.70) rotate(-45) translate(-8.18,2.37)" x="0" y="0" font-size="6.89" fill="#111" stroke="#111" stroke-width="0.35" textLength="16.12" lengthAdjust="spacingAndGlyphs">1985</text>
<line x1="143.07" y1="686.50" x2="143.07" y2="689.10" stroke="#262626" stroke-width="0.9" stroke-linecap="butt"/>
<text transform="translate(142.62,698.70) rotate(-45) translate(-8.25,2.37)" x="0" y="0" font-size="6.89" fill="#111" stroke="#111" stroke-width="0.35" textLength="16.24" lengthAdjust="spacingAndGlyphs">1990</text>
<line x1="156.13" y1="686.50" x2="156.13" y2="689.10" stroke="#262626" stroke-width="0.9" stroke-linecap="butt"/>
<text transform="translate(155.68,698.70) rotate(-45) translate(-8.18,2.37)" x="0" y="0" font-size="6.89" fill="#111" stroke="#111" stroke-width="0.35" textLength="16.12" lengthAdjust="spacingAndGlyphs">1995</text>
<line x1="169.20" y1="686.50" x2="169.20" y2="689.10" stroke="#262626" stroke-width="0.9" stroke-linecap="butt"/>
<text transform="translate(168.75,698.70) rotate(-45) translate(-8.19,2.37)" x="0" y="0" font-size="6.89" fill="#111" stroke="#111" stroke-width="0.35" textLength="16.29" lengthAdjust="spacingAndGlyphs">2000</text>
<line x1="182.27" y1="686.50" x2="182.27" y2="689.10" stroke="#262626" stroke-width="0.9" stroke-linecap="butt"/>
<text transform="translate(181.82,698.70) rotate(-45) translate(-8.11,2.37)" x="0" y="0" font-size="6.89" fill="#111" stroke="#111" stroke-width="0.35" textLength="16.17" lengthAdjust="spacingAndGlyphs">2005</text>
<line x1="195.33" y1="686.50" x2="195.33" y2="689.10" stroke="#262626" stroke-width="0.9" stroke-linecap="butt"/>
<text transform="translate(194.88,698.70) rotate(-45) translate(-8.19,2.37)" x="0" y="0" font-size="6.89" fill="#111" stroke="#111" stroke-width="0.35" textLength="16.29" lengthAdjust="spacingAndGlyphs">2010</text>
<line x1="208.40" y1="686.50" x2="208.40" y2="689.10" stroke="#262626" stroke-width="0.9" stroke-linecap="butt"/>
<text transform="translate(207.95,698.70) rotate(-45) translate(-8.11,2.37)" x="0" y="0" font-size="6.89" fill="#111" stroke="#111" stroke-width="0.35" textLength="16.17" lengthAdjust="spacingAndGlyphs">2015</text>
<line x1="221.47" y1="686.50" x2="221.47" y2="689.10" stroke="#262626" stroke-width="0.9" stroke-linecap="butt"/>
<text transform="translate(221.02,698.70) rotate(-45) translate(-8.19,2.37)" x="0" y="0" font-size="6.89" fill="#111" stroke="#111" stroke-width="0.35" textLength="16.29" lengthAdjust="spacingAndGlyphs">2020</text>
<line x1="32.00" y1="588.10" x2="32.00" y2="687.00" stroke="#262626" stroke-width="1.0" stroke-linecap="butt"/>
<line x1="31.50" y1="686.50" x2="228.00" y2="686.50" stroke="#262626" stroke-width="1.0" stroke-linecap="butt"/>
<polyline points="38.53,638.60 51.60,595.00 64.67,594.40 77.73,626.20 90.80,672.60 103.87,647.30 116.93,656.00 130.00,649.50 143.07,679.50 156.13,661.10 169.20,666.00 182.27,663.70 195.33,673.40 208.40,677.20 221.47,676.30" fill="none" stroke="#8c564b" stroke-width="2.0" stroke-linejoin="round" stroke-linecap="round"/>
<path d="M35.73 638.60L41.33 635.80L41.33 641.40Z" fill="#8c564b" stroke="#8c564b" stroke-width="1.0" stroke-linejoin="miter"/>
<path d="M48.80 595.00L54.40 592.20L54.40 597.80Z" fill="#8c564b" stroke="#8c564b" stroke-width="1.0" stroke-linejoin="miter"/>
<path d="M61.87 594.40L67.47 591.60L67.47 597.20Z" fill="#8c564b" stroke="#8c564b" stroke-width="1.0" stroke-linejoin="miter"/>
<path d="M74.93 626.20L80.53 623.40L80.53 629.00Z" fill="#8c564b" stroke="#8c564b" stroke-width="1.0" stroke-linejoin="miter"/>
<path d="M88.00 672.60L93.60 669.80L93.60 675.40Z" fill="#8c564b" stroke="#8c564b" stroke-width="1.0" stroke-linejoin="miter"/>
<path d="M101.07 647.30L106.67 644.50L106.67 650.10Z" fill="#8c564b" stroke="#8c564b" stroke-width="1.0" stroke-linejoin="miter"/>
<path d="M114.13 656.00L119.73 653.20L119.73 658.80Z" fill="#8c564b" stroke="#8c564b" stroke-width="1.0" stroke-linejoin="miter"/>
<path d="M127.20 649.50L132.80 646.70L132.80 652.30Z" fill="#8c564b" stroke="#8c564b" stroke-width="1.0" stroke-linejoin="miter"/>
<path d="M140.27 679.50L145.87 676.70L145.87 682.30Z" fill="#8c564b" stroke="#8c564b" stroke-width="1.0" stroke-linejoin="miter"/>
<path d="M153.33 661.10L158.93 658.30L158.93 663.90Z" fill="#8c564b" stroke="#8c564b" stroke-width="1.0" stroke-linejoin="miter"/>
<path d="M166.40 666.00L172.00 663.20L172.00 668.80Z" fill="#8c564b" stroke="#8c564b" stroke-width="1.0" stroke-linejoin="miter"/>
<path d="M179.47 663.70L185.07 660.90L185.07 666.50Z" fill="#8c564b" stroke="#8c564b" stroke-width="1.0" stroke-linejoin="miter"/>
<path d="M192.53 673.40L198.13 670.60L198.13 676.20Z" fill="#8c564b" stroke="#8c564b" stroke-width="1.0" stroke-linejoin="miter"/>
<path d="M205.60 677.20L211.20 674.40L211.20 680.00Z" fill="#8c564b" stroke="#8c564b" stroke-width="1.0" stroke-linejoin="miter"/>
<path d="M218.67 676.30L224.27 673.50L224.27 679.10Z" fill="#8c564b" stroke="#8c564b" stroke-width="1.0" stroke-linejoin="miter"/>
<text x="306.17" y="584.50" font-size="6.89" fill="#111" stroke="#111" stroke-width="0.2" textLength="104.89" lengthAdjust="spacingAndGlyphs">test_edge = AUGMENTS_GagDO</text>
<line x1="257.50" y1="671.10" x2="260.50" y2="671.10" stroke="#262626" stroke-width="0.9" stroke-linecap="butt"/>
<text x="237.39" y="673.90" font-size="6.89" fill="#111" stroke="#111" stroke-width="0.2" textLength="18.28" lengthAdjust="spacingAndGlyphs">0.797</text>
<line x1="257.50" y1="651.90" x2="260.50" y2="651.90" stroke="#262626" stroke-width="0.9" stroke-linecap="butt"/>
<text x="237.28" y="654.70" font-size="6.89" fill="#111" stroke="#111" stroke-width="0.2" textLength="18.34" lengthAdjust="spacingAndGlyphs">0.798</text>
<line x1="257.50" y1="632.70" x2="260.50" y2="632.70" stroke="#262626" stroke-width="0.9" stroke-linecap="butt"/>
<text x="237.29" y="635.50" font-size="6.89" fill="#111" stroke="#111" stroke-width="0.2" textLength="18.36" lengthAdjust="spacingAndGlyphs">0.799</text>
<line x1="257.50" y1="613.60" x2="260.50" y2="613.60" stroke="#262626" stroke-width="0.9" stroke-linecap="butt"/>
<text x="237.27" y="616.40" font-size="6.89" fill="#111" stroke="#111" stroke-width="0.2" textLength="18.32" lengthAdjust="spacingAndGlyphs">0.800</text>
<line x1="257.50" y1="594.50" x2="260.50" y2="594.50" stroke="#262626" stroke-width="0.9" stroke-linecap="butt"/>
<text x="237.44" y="597.30" font-size="6.89" fill="#111" stroke="#111" stroke-width="0.2" textLength="18.22" lengthAdjust="spacingAndGlyphs">0.801</text>
<line x1="267.03" y1="686.50" x2="267.03" y2="689.10" stroke="#262626" stroke-width="0.9" stroke-linecap="butt"/>
<text transform="translate(266.58,698.70) rotate(-45) translate(-8.25,2.37)" x="0" y="0" font-size="6.89" fill="#111" stroke="#111" stroke-width="0.35" textLength="16.24" lengthAdjust="spacingAndGlyphs">1950</text>
<line x1="280.10" y1="686.50" x2="280.10" y2="689.10" stroke="#262626" stroke-width="0.9" stroke-linecap="butt"/>
<text transform="translate(279.65,698.70) rotate(-45) translate(-8.18,2.37)" x="0" y="0" font-size="6.89" fill="#111" stroke="#111" stroke-width="0.35" textLength="16.12" lengthAdjust="spacingAndGlyphs">1955</text>
<line x1="293.17" y1="686.50" x2="293.17" y2="689.10" stroke="#262626" stroke-width="0.9" stroke-linecap="butt"/>
<text transform="translate(292.72,698.70) rotate(-45) translate(-8.25,2.37)" x="0" y="0" font-size="6.89" fill="#111" stroke="#111" stroke-width="0.35" textLength="16.24" lengthAdjust="spacingAndGlyphs">1960</text>
<line x1="306.23" y1="686.50" x2="306.23" y2="689.10" stroke="#262626" stroke-width="0.9" stroke-linecap="butt"/>
<text transform="translate(305.78,698.70) rotate(-45) translate(-8.18,2.37)" x="0" y="0" font-size="6.89" fill="#111" stroke="#111" stroke-width="0.35" textLength="16.12" lengthAdjust="spacingAndGlyphs">1965</text>
<line x1="319.30" y1="686.50" x2="319.30" y2="689.10" stroke="#262626" stroke-width="0.9" stroke-linecap="butt"/>
<text transform="translate(318.85,698.70) rotate(-45) translate(-8.25,2.37)" x="0" y="0" font-size="6.89" fill="#111" stroke="#111" stroke-width="0.35" textLength="16.24" lengthAdjust="spacingAndGlyphs">1970</text>
<line x1="332.37" y1="686.50" x2="332.37" y2="689.10" stroke="#262626" stroke-width="0.9" stroke-linecap="butt"/>
<text transform="translate(331.92,698.70) rotate(-45) translate(-8.18,2.37)" x="0" y="0" font-size="6.89" fill="#111" stroke="#111" stroke-width="0.35" textLength="16.12" lengthAdjust="spacingAndGlyphs">1975</text>
<line x1="345.43" y1="686.50" x2="345.43" y2="689.10" stroke="#262626" stroke-width="0.9" stroke-linecap="butt"/>
<text transform="translate(344.98,698.70) rotate(-45) translate(-8.25,2.37)" x="0" y="0" font-size="6.89" fill="#111" stroke="#111" stroke-width="0.35" textLength="16.24" lengthAdjust="spacingAndGlyphs">1980</text>
<line x1="358.50" y1="686.50" x2="358.50" y2="689.10" stroke="#262626" stroke-width="0.9" stroke-linecap="butt"/>
<text transform="translate(358.05,698.70) rotate(-45) translate(-8.18,2.37)" x="0" y="0" font-size="6.89" fill="#111" stroke="#111" stroke-width="0.35" textLength="16.12" lengthAdjust="spacingAndGlyphs">1985</text>
<line x1="371.57" y1="686.50" x2="371.57" y2="689.10" stroke="#262626" stroke-width="0.9" stroke-linecap="butt"/>
<text transform="translate(371.12,698.70) rotate(-45) translate(-8.25,2.37)" x="0" y="0" font-size="6.89" fill="#111" stroke="#111" stroke-width="0.35" textLength="16.24" lengthAdjust="spacingAndGlyphs">1990</text>
<line x1="384.63" y1="686.50" x2="384.63" y2="689.10" stroke="#262626" stroke-width="0.9" stroke-linecap="butt"/>
<text transform="translate(384.18,698.70) rotate(-45) translate(-8.18,2.37)" x="0" y="0" font-size="6.89" fill="#111" stroke="#111" stroke-width="0.35" textLength="16.12" lengthAdjust="spacingAndGlyphs">1995</text>
<line x1="397.70" y1="686.50" x2="397.70" y2="689.10" stroke="#262626" stroke-width="0.9" stroke-linecap="butt"/>
<text transform="translate(397.25,698.70) rotate(-45) translate(-8.19,2.37)" x="0" y="0" font-size="6.89" fill="#111" stroke="#111" stroke-width="0.35" textLength="16.29" lengthAdjust="spacingAndGlyphs">2000</text>
<line x1="410.77" y1="686.50" x2="410.77" y2="689.10" stroke="#262626" stroke-width="0.9" stroke-linecap="butt"/>
<text transform="translate(410.32,698.70) rotate(-45) translate(-8.11,2.37)" x="0" y="0" font-size="6.89" fill="#111" stroke="#111" stroke-width="0.35" textLength="16.17" lengthAdjust="spacingAndGlyphs">2005</text>
<line x1="423.83" y1="686.50" x2="423.83" y2="689.10" stroke="#262626" stroke-width="0.9" stroke-linecap="butt"/>
<text transform="translate(423.38,698.70) rotate(-45) translate(-8.19,2.37)" x="0" y="0" font-size="6.89" fill="#111" stroke="#111" stroke-width="0.35" textLength="16.29" lengthAdjust="spacingAndGlyphs">2010</text>
<line x1="436.90" y1="686.50" x2="436.90" y2="689.10" stroke="#262626" stroke-width="0.9" stroke-linecap="butt"/>
<text transform="translate(436.45,698.70) rotate(-45) translate(-8.11,2.37)" x="0" y="0" font-size="6.89" fill="#111" stroke="#111" stroke-width="0.35" textLength="16.17" lengthAdjust="spacingAndGlyphs">2015</text>
<line x1="449.97" y1="686.50" x2="449.97" y2="689.10" stroke="#262626" stroke-width="0.9" stroke-linecap="butt"/>
<text transform="translate(449.52,698.70) rotate(-45) translate(-8.19,2.37)" x="0" y="0" font-size="6.89" fill="#111" stroke="#111" stroke-width="0.35" textLength="16.29" lengthAdjust="spacingAndGlyphs">2020</text>
<line x1="260.50" y1="588.10" x2="260.50" y2="687.00" stroke="#262626" stroke-width="1.0" stroke-linecap="butt"/>
<line x1="260.00" y1="686.50" x2="456.50" y2="686.50" stroke="#262626" stroke-width="1.0" stroke-linecap="butt"/>
<polyline points="267.03,594.10 280.10,671.60 293.17,676.30 306.23,642.60 319.30,658.90 332.37,631.30 345.43,630.30 358.50,654.00 371.57,633.20 384.63,637.40 397.70,634.50 410.77,625.00 423.83,680.10 436.90,636.40 449.97,673.40" fill="none" stroke="#7f7f7f" stroke-width="2.0" stroke-linejoin="round" stroke-linecap="round"/>
<path d="M267.03 591.40L264.47 593.27L265.45 596.28L268.62 596.28L269.60 593.27Z" fill="#7f7f7f" stroke="#7f7f7f" stroke-width="1.0" stroke-linejoin="miter"/>
<path d="M280.10 668.90L277.53 670.77L278.51 673.78L281.69 673.78L282.67 670.77Z" fill="#7f7f7f" stroke="#7f7f7f" stroke-width="1.0" stroke-linejoin="miter"/>
<path d="M293.17 673.60L290.60 675.47L291.58 678.48L294.75 678.48L295.73 675.47Z" fill="#7f7f7f" stroke="#7f7f7f" stroke-width="1.0" stroke-linejoin="miter"/>
<path d="M306.23 639.90L303.67 641.77L304.65 644.78L307.82 644.78L308.80 641.77Z" fill="#7f7f7f" stroke="#7f7f7f" stroke-width="1.0" stroke-linejoin="miter"/>
<path d="M319.30 656.20L316.73 658.07L317.71 661.08L320.89 661.08L321.87 658.07Z" fill="#7f7f7f" stroke="#7f7f7f" stroke-width="1.0" stroke-linejoin="miter"/>
<path d="M332.37 628.60L329.80 630.47L330.78 633.48L333.95 633.48L334.93 630.47Z" fill="#7f7f7f" stroke="#7f7f7f" stroke-width="1.0" stroke-linejoin="miter"/>
<path d="M345.43 627.60L342.87 629.47L343.85 632.48L347.02 632.48L348.00 629.47Z" fill="#7f7f7f" stroke="#7f7f7f" stroke-width="1.0" stroke-linejoin="miter"/>
<path d="M358.50 651.30L355.93 653.17L356.91 656.18L360.09 656.18L361.07 653.17Z" fill="#7f7f7f" stroke="#7f7f7f" stroke-width="1.0" stroke-linejoin="miter"/>
<path d="M371.57 630.50L369.00 632.37L369.98 635.38L373.15 635.38L374.13 632.37Z" fill="#7f7f7f" stroke="#7f7f7f" stroke-width="1.0" stroke-linejoin="miter"/>
<path d="M384.63 634.70L382.07 636.57L383.05 639.58L386.22 639.58L387.20 636.57Z" fill="#7f7f7f" stroke="#7f7f7f" stroke-width="1.0" stroke-linejoin="miter"/>
<path d="M397.70 631.80L395.13 633.67L396.11 636.68L399.29 636.68L400.27 633.67Z" fill="#7f7f7f" stroke="#7f7f7f" stroke-width="1.0" stroke-linejoin="miter"/>
<path d="M410.77 622.30L408.20 624.17L409.18 627.18L412.35 627.18L413.33 624.17Z" fill="#7f7f7f" stroke="#7f7f7f" stroke-width="1.0" stroke-linejoin="miter"/>
<path d="M423.83 677.40L421.27 679.27L422.25 682.28L425.42 682.28L426.40 679.27Z" fill="#7f7f7f" stroke="#7f7f7f" stroke-width="1.0" stroke-linejoin="miter"/>
<path d="M436.90 633.70L434.33 635.57L435.31 638.58L438.49 638.58L439.47 635.57Z" fill="#7f7f7f" stroke="#7f7f7f" stroke-width="1.0" stroke-linejoin="miter"/>
<path d="M449.97 670.70L447.40 672.57L448.38 675.58L451.55 675.58L452.53 672.57Z" fill="#7f7f7f" stroke="#7f7f7f" stroke-width="1.0" stroke-linejoin="miter"/>
<text x="534.56" y="584.50" font-size="6.89" fill="#111" stroke="#111" stroke-width="0.2" textLength="105.89" lengthAdjust="spacingAndGlyphs">test_edge = STIMULATES_CDstG</text>
<line x1="486.30" y1="675.90" x2="489.30" y2="675.90" stroke="#262626" stroke-width="0.9" stroke-linecap="butt"/>
<text x="461.93" y="678.70" font-size="6.89" fill="#111" stroke="#111" stroke-width="0.2" textLength="22.46" lengthAdjust="spacingAndGlyphs">0.7900</text>
<line x1="486.30" y1="659.50" x2="489.30" y2="659.50" stroke="#262626" stroke-width="0.9" stroke-linecap="butt"/>
<text x="462.07" y="662.30" font-size="6.89" fill="#111" stroke="#111" stroke-width="0.2" textLength="22.34" lengthAdjust="spacingAndGlyphs">0.7925</text>
<line x1="486.30" y1="643.00" x2="489.30" y2="643.00" stroke="#262626" stroke-width="0.9" stroke-linecap="butt"/>
<text x="461.93" y="645.80" font-size="6.89" fill="#111" stroke="#111" stroke-width="0.2" textLength="22.46" lengthAdjust="spacingAndGlyphs">0.7950</text>
<line x1="486.30" y1="626.60" x2="489.30" y2="626.60" stroke="#262626" stroke-width="0.9" stroke-linecap="butt"/>
<text x="462.07" y="629.40" font-size="6.89" fill="#111" stroke="#111" stroke-width="0.2" textLength="22.34" lengthAdjust="spacingAndGlyphs">0.7975</text>
<line x1="486.30" y1="610.10" x2="489.30" y2="610.10" stroke="#262626" stroke-width="0.9" stroke-linecap="butt"/>
<text x="461.93" y="612.90" font-size="6.89" fill="#111" stroke="#111" stroke-width="0.2" textLength="22.46" lengthAdjust="spacingAndGlyphs">0.8000</text>
<line x1="486.30" y1="593.70" x2="489.30" y2="593.70" stroke="#262626" stroke-width="0.9" stroke-linecap="butt"/>
<text x="462.07" y="596.50" font-size="6.89" fill="#111" stroke="#111" stroke-width="0.2" textLength="22.34" lengthAdjust="spacingAndGlyphs">0.8025</text>
<line x1="495.83" y1="686.50" x2="495.83" y2="689.10" stroke="#262626" stroke-width="0.9" stroke-linecap="butt"/>
<text transform="translate(495.38,698.70) rotate(-45) translate(-8.25,2.37)" x="0" y="0" font-size="6.89" fill="#111" stroke="#111" stroke-width="0.35" textLength="16.24" lengthAdjust="spacingAndGlyphs">1950</text>
<line x1="508.90" y1="686.50" x2="508.90" y2="689.10" stroke="#262626" stroke-width="0.9" stroke-linecap="butt"/>
<text transform="translate(508.45,698.70) rotate(-45) translate(-8.18,2.37)" x="0" y="0" font-size="6.89" fill="#111" stroke="#111" stroke-width="0.35" textLength="16.12" lengthAdjust="spacingAndGlyphs">1955</text>
<line x1="521.97" y1="686.50" x2="521.97" y2="689.10" stroke="#262626" stroke-width="0.9" stroke-linecap="butt"/>
<text transform="translate(521.52,698.70) rotate(-45) translate(-8.25,2.37)" x="0" y="0" font-size="6.89" fill="#111" stroke="#111" stroke-width="0.35" textLength="16.24" lengthAdjust="spacingAndGlyphs">1960</text>
<line x1="535.03" y1="686.50" x2="535.03" y2="689.10" stroke="#262626" stroke-width="0.9" stroke-linecap="butt"/>
<text transform="translate(534.58,698.70) rotate(-45) translate(-8.18,2.37)" x="0" y="0" font-size="6.89" fill="#111" stroke="#111" stroke-width="0.35" textLength="16.12" lengthAdjust="spacingAndGlyphs">1965</text>
<line x1="548.10" y1="686.50" x2="548.10" y2="689.10" stroke="#262626" stroke-width="0.9" stroke-linecap="butt"/>
<text transform="translate(547.65,698.70) rotate(-45) translate(-8.25,2.37)" x="0" y="0" font-size="6.89" fill="#111" stroke="#111" stroke-width="0.35" textLength="16.24" lengthAdjust="spacingAndGlyphs">1970</text>
<line x1="561.17" y1="686.50" x2="561.17" y2="689.10" stroke="#262626" stroke-width="0.9" stroke-linecap="butt"/>
<text transform="translate(560.72,698.70) rotate(-45) translate(-8.18,2.37)" x="0" y="0" font-size="6.89" fill="#111" stroke="#111" stroke-width="0.35" textLength="16.12" lengthAdjust="spacingAndGlyphs">1975</text>
<line x1="574.23" y1="686.50" x2="574.23" y2="689.10" stroke="#262626" stroke-width="0.9" stroke-linecap="butt"/>
<text transform="translate(573.78,698.70) rotate(-45) translate(-8.25,2.37)" x="0" y="0" font-size="6.89" fill="#111" stroke="#111" stroke-width="0.35" textLength="16.24" lengthAdjust="spacingAndGlyphs">1980</text>
<line x1="587.30" y1="686.50" x2="587.30" y2="689.10" stroke="#262626" stroke-width="0.9" stroke-linecap="butt"/>
<text transform="translate(586.85,698.70) rotate(-45) translate(-8.18,2.37)" x="0" y="0" font-size="6.89" fill="#111" stroke="#111" stroke-width="0.35" textLength="16.12" lengthAdjust="spacingAndGlyphs">1985</text>
<line x1="600.37" y1="686.50" x2="600.37" y2="689.10" stroke="#262626" stroke-width="0.9" stroke-linecap="butt"/>
<text transform="translate(599.92,698.70) rotate(-45) translate(-8.25,2.37)" x="0" y="0" font-size="6.89" fill="#111" stroke="#111" stroke-width="0.35" textLength="16.24" lengthAdjust="spacingAndGlyphs">1990</text>
<line x1="613.43" y1="686.50" x2="613.43" y2="689.10" stroke="#262626" stroke-width="0.9" stroke-linecap="butt"/>
<text transform="translate(612.98,698.70) rotate(-45) translate(-8.18,2.37)" x="0" y="0" font-size="6.89" fill="#111" stroke="#111" stroke-width="0.35" textLength="16.12" lengthAdjust="spacingAndGlyphs">1995</text>
<line x1="626.50" y1="686.50" x2="626.50" y2="689.10" stroke="#262626" stroke-width="0.9" stroke-linecap="butt"/>
<text transform="translate(626.05,698.70) rotate(-45) translate(-8.19,2.37)" x="0" y="0" font-size="6.89" fill="#111" stroke="#111" stroke-width="0.35" textLength="16.29" lengthAdjust="spacingAndGlyphs">2000</text>
<line x1="639.57" y1="686.50" x2="639.57" y2="689.10" stroke="#262626" stroke-width="0.9" stroke-linecap="butt"/>
<text transform="translate(639.12,698.70) rotate(-45) translate(-8.11,2.37)" x="0" y="0" font-size="6.89" fill="#111" stroke="#111" stroke-width="0.35" textLength="16.17" lengthAdjust="spacingAndGlyphs">2005</text>
<line x1="652.63" y1="686.50" x2="652.63" y2="689.10" stroke="#262626" stroke-width="0.9" stroke-linecap="butt"/>
<text transform="translate(652.18,698.70) rotate(-45) translate(-8.19,2.37)" x="0" y="0" font-size="6.89" fill="#111" stroke="#111" stroke-width="0.35" textLength="16.29" lengthAdjust="spacingAndGlyphs">2010</text>
<line x1="665.70" y1="686.50" x2="665.70" y2="689.10" stroke="#262626" stroke-width="0.9" stroke-linecap="butt"/>
<text transform="translate(665.25,698.70) rotate(-45) translate(-8.11,2.37)" x="0" y="0" font-size="6.89" fill="#111" stroke="#111" stroke-width="0.35" textLength="16.17" lengthAdjust="spacingAndGlyphs">2015</text>
<line x1="678.77" y1="686.50" x2="678.77" y2="689.10" stroke="#262626" stroke-width="0.9" stroke-linecap="butt"/>
<text transform="translate(678.32,698.70) rotate(-45) translate(-8.19,2.37)" x="0" y="0" font-size="6.89" fill="#111" stroke="#111" stroke-width="0.35" textLength="16.29" lengthAdjust="spacingAndGlyphs">2020</text>
<line x1="489.30" y1="588.10" x2="489.30" y2="687.00" stroke="#262626" stroke-width="1.0" stroke-linecap="butt"/>
<line x1="488.80" y1="686.50" x2="685.30" y2="686.50" stroke="#262626" stroke-width="1.0" stroke-linecap="butt"/>
<polyline points="495.83,630.70 508.90,600.70 521.97,615.90 535.03,610.20 548.10,600.70 561.17,594.10 574.23,605.30 587.30,623.40 600.37,638.00 613.43,639.60 626.50,656.70 639.57,645.90 652.63,648.30 665.70,680.00 678.77,661.10" fill="none" stroke="#9467bd" stroke-width="2.0" stroke-linejoin="round" stroke-linecap="round"/>
<path d="M495.83 627.10L495.03 629.59L492.41 629.59L494.53 631.12L493.72 633.61L495.83 632.08L497.95 633.61L497.14 631.12L499.26 629.59L496.64 629.59Z" fill="#9467bd" stroke="#9467bd" stroke-width="1.0" stroke-linejoin="miter"/>
<path d="M508.90 597.10L508.09 599.59L505.48 599.59L507.59 601.12L506.78 603.61L508.90 602.08L511.02 603.61L510.21 601.12L512.32 599.59L509.71 599.59Z" fill="#9467bd" stroke="#9467bd" stroke-width="1.0" stroke-linejoin="miter"/>
<path d="M521.97 612.30L521.16 614.79L518.54 614.79L520.66 616.32L519.85 618.81L521.97 617.28L524.08 618.81L523.27 616.32L525.39 614.79L522.77 614.79Z" fill="#9467bd" stroke="#9467bd" stroke-width="1.0" stroke-linejoin="miter"/>
<path d="M535.03 606.60L534.23 609.09L531.61 609.09L533.73 610.62L532.92 613.11L535.03 611.58L537.15 613.11L536.34 610.62L538.46 609.09L535.84 609.09Z" fill="#9467bd" stroke="#9467bd" stroke-width="1.0" stroke-linejoin="miter"/>
<path d="M548.10 597.10L547.29 599.59L544.68 599.59L546.79 601.12L545.98 603.61L548.10 602.08L550.22 603.61L549.41 601.12L551.52 599.59L548.91 599.59Z" fill="#9467bd" stroke="#9467bd" stroke-width="1.0" stroke-linejoin="miter"/>
<path d="M561.17 590.50L560.36 592.99L557.74 592.99L559.86 594.52L559.05 597.01L561.17 595.48L563.28 597.01L562.47 594.52L564.59 592.99L561.97 592.99Z" fill="#9467bd" stroke="#9467bd" stroke-width="1.0" stroke-linejoin="miter"/>
<path d="M574.23 601.70L573.43 604.19L570.81 604.19L572.93 605.72L572.12 608.21L574.23 606.68L576.35 608.21L575.54 605.72L577.66 604.19L575.04 604.19Z" fill="#9467bd" stroke="#9467bd" stroke-width="1.0" stroke-linejoin="miter"/>
<path d="M587.30 619.80L586.49 622.29L583.88 622.29L585.99 623.82L585.18 626.31L587.30 624.78L589.42 626.31L588.61 623.82L590.72 622.29L588.11 622.29Z" fill="#9467bd" stroke="#9467bd" stroke-width="1.0" stroke-linejoin="miter"/>
<path d="M600.37 634.40L599.56 636.89L596.94 636.89L599.06 638.42L598.25 640.91L600.37 639.38L602.48 640.91L601.67 638.42L603.79 636.89L601.17 636.89Z" fill="#9467bd" stroke="#9467bd" stroke-width="1.0" stroke-linejoin="miter"/>
<path d="M613.43 636.00L612.63 638.49L610.01 638.49L612.13 640.02L611.32 642.51L613.43 640.98L615.55 642.51L614.74 640.02L616.86 638.49L614.24 638.49Z" fill="#9467bd" stroke="#9467bd" stroke-width="1.0" stroke-linejoin="miter"/>
<path d="M626.50 653.10L625.69 655.59L623.08 655.59L625.19 657.12L624.38 659.61L626.50 658.08L628.62 659.61L627.81 657.12L629.92 655.59L627.31 655.59Z" fill="#9467bd" stroke="#9467bd" stroke-width="1.0" stroke-linejoin="miter"/>
<path d="M639.57 642.30L638.76 644.79L636.14 644.79L638.26 646.32L637.45 648.81L639.57 647.28L641.68 648.81L640.87 646.32L642.99 644.79L640.37 644.79Z" fill="#9467bd" stroke="#9467bd" stroke-width="1.0" stroke-linejoin="miter"/>
<path d="M652.63 644.70L651.83 647.19L649.21 647.19L651.33 648.72L650.52 651.21L652.63 649.68L654.75 651.21L653.94 648.72L656.06 647.19L653.44 647.19Z" fill="#9467bd" stroke="#9467bd" stroke-width="1.0" stroke-linejoin="miter"/>
<path d="M665.70 676.40L664.89 678.89L662.28 678.89L664.39 680.42L663.58 682.91L665.70 681.38L667.82 682.91L667.01 680.42L669.12 678.89L666.51 678.89Z" fill="#9467bd" stroke="#9467bd" stroke-width="1.0" stroke-linejoin="miter"/>
<path d="M678.77 657.50L677.96 659.99L675.34 659.99L677.46 661.52L676.65 664.01L678.77 662.48L680.88 664.01L680.07 661.52L682.19 659.99L679.57 659.99Z" fill="#9467bd" stroke="#9467bd" stroke-width="1.0" stroke-linejoin="miter"/>
<text transform="translate(6.70,367.15) rotate(-90) translate(-11.50,2.37)" x="0" y="0" font-size="6.89" fill="#111" stroke="#111" stroke-width="0.2" textLength="23.23" lengthAdjust="spacingAndGlyphs">AUROC</text>
<text transform="translate(2.60,502.25) rotate(-90) translate(-11.50,2.37)" x="0" y="0" font-size="6.89" fill="#111" stroke="#111" stroke-width="0.2" textLength="23.23" lengthAdjust="spacingAndGlyphs">AUROC</text>
<text transform="translate(2.60,637.30) rotate(-90) translate(-11.50,2.37)" x="0" y="0" font-size="6.89" fill="#111" stroke="#111" stroke-width="0.2" textLength="23.23" lengthAdjust="spacingAndGlyphs">AUROC</text>
<text x="85.76" y="714.40" font-size="6.89" fill="#111" stroke="#111" stroke-width="0.2" textLength="88.80" lengthAdjust="spacingAndGlyphs">Year test edges taken from</text>
<text x="314.26" y="714.40" font-size="6.89" fill="#111" stroke="#111" stroke-width="0.2" textLength="88.80" lengthAdjust="spacingAndGlyphs">Year test edges taken from</text>
<text x="543.06" y="714.40" font-size="6.89" fill="#111" stroke="#111" stroke-width="0.2" textLength="88.80" lengthAdjust="spacingAndGlyphs">Year test edges taken from</text>
</svg>
</body></html>
